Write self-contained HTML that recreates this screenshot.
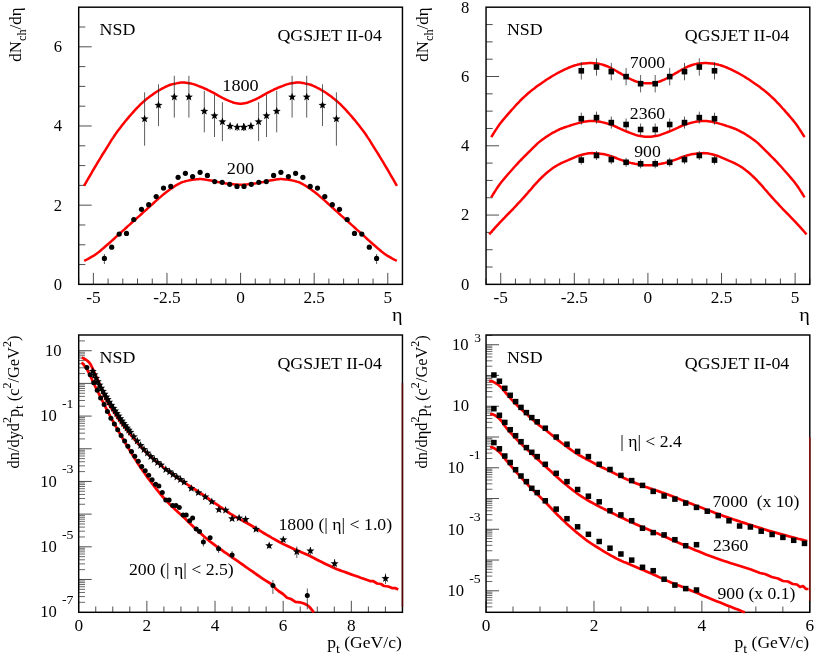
<!DOCTYPE html>
<html><head><meta charset="utf-8"><title>QGSJET II-04 NSD</title>
<style>html,body{margin:0;padding:0;background:#fff;}svg{display:block;will-change:transform;}text{font-family:"Liberation Serif",serif;}</style>
</head><body>
<svg width="817" height="654" viewBox="0 0 817 654" font-family="Liberation Serif, serif" fill="#000">
<line x1="78.65" y1="284.35" x2="78.65" y2="278.55" stroke="#222" stroke-width="0.8" />
<line x1="93.37" y1="284.35" x2="93.37" y2="272.85" stroke="#222" stroke-width="0.8" />
<line x1="108.09" y1="284.35" x2="108.09" y2="278.55" stroke="#222" stroke-width="0.8" />
<line x1="122.81" y1="284.35" x2="122.81" y2="278.55" stroke="#222" stroke-width="0.8" />
<line x1="137.53" y1="284.35" x2="137.53" y2="278.55" stroke="#222" stroke-width="0.8" />
<line x1="152.25" y1="284.35" x2="152.25" y2="278.55" stroke="#222" stroke-width="0.8" />
<line x1="166.97" y1="284.35" x2="166.97" y2="272.85" stroke="#222" stroke-width="0.8" />
<line x1="181.69" y1="284.35" x2="181.69" y2="278.55" stroke="#222" stroke-width="0.8" />
<line x1="196.41" y1="284.35" x2="196.41" y2="278.55" stroke="#222" stroke-width="0.8" />
<line x1="211.13" y1="284.35" x2="211.13" y2="278.55" stroke="#222" stroke-width="0.8" />
<line x1="225.85" y1="284.35" x2="225.85" y2="278.55" stroke="#222" stroke-width="0.8" />
<line x1="240.57" y1="284.35" x2="240.57" y2="272.85" stroke="#222" stroke-width="0.8" />
<line x1="255.29" y1="284.35" x2="255.29" y2="278.55" stroke="#222" stroke-width="0.8" />
<line x1="270.01" y1="284.35" x2="270.01" y2="278.55" stroke="#222" stroke-width="0.8" />
<line x1="284.73" y1="284.35" x2="284.73" y2="278.55" stroke="#222" stroke-width="0.8" />
<line x1="299.45" y1="284.35" x2="299.45" y2="278.55" stroke="#222" stroke-width="0.8" />
<line x1="314.17" y1="284.35" x2="314.17" y2="272.85" stroke="#222" stroke-width="0.8" />
<line x1="328.89" y1="284.35" x2="328.89" y2="278.55" stroke="#222" stroke-width="0.8" />
<line x1="343.61" y1="284.35" x2="343.61" y2="278.55" stroke="#222" stroke-width="0.8" />
<line x1="358.33" y1="284.35" x2="358.33" y2="278.55" stroke="#222" stroke-width="0.8" />
<line x1="373.05" y1="284.35" x2="373.05" y2="278.55" stroke="#222" stroke-width="0.8" />
<line x1="387.77" y1="284.35" x2="387.77" y2="272.85" stroke="#222" stroke-width="0.8" />
<line x1="402.49" y1="284.35" x2="402.49" y2="278.55" stroke="#222" stroke-width="0.8" />
<line x1="78.70" y1="264.56" x2="85.30" y2="264.56" stroke="#222" stroke-width="0.8" />
<line x1="78.70" y1="244.76" x2="85.30" y2="244.76" stroke="#222" stroke-width="0.8" />
<line x1="78.70" y1="224.97" x2="85.30" y2="224.97" stroke="#222" stroke-width="0.8" />
<line x1="78.70" y1="205.17" x2="91.70" y2="205.17" stroke="#222" stroke-width="0.8" />
<line x1="78.70" y1="185.38" x2="85.30" y2="185.38" stroke="#222" stroke-width="0.8" />
<line x1="78.70" y1="165.58" x2="85.30" y2="165.58" stroke="#222" stroke-width="0.8" />
<line x1="78.70" y1="145.79" x2="85.30" y2="145.79" stroke="#222" stroke-width="0.8" />
<line x1="78.70" y1="125.99" x2="91.70" y2="125.99" stroke="#222" stroke-width="0.8" />
<line x1="78.70" y1="106.19" x2="85.30" y2="106.19" stroke="#222" stroke-width="0.8" />
<line x1="78.70" y1="86.40" x2="85.30" y2="86.40" stroke="#222" stroke-width="0.8" />
<line x1="78.70" y1="66.61" x2="85.30" y2="66.61" stroke="#222" stroke-width="0.8" />
<line x1="78.70" y1="46.81" x2="91.70" y2="46.81" stroke="#222" stroke-width="0.8" />
<line x1="78.70" y1="27.01" x2="85.30" y2="27.01" stroke="#222" stroke-width="0.8" />
<rect x="78.7" y="7.2" width="323.75" height="277.15000000000003" fill="none" stroke="#000" stroke-width="1.45"/>
<text transform="translate(93.37,303.00) scale(1.1,1)" font-size="15.7" text-anchor="middle" >-5</text>
<text transform="translate(166.97,303.00) scale(1.1,1)" font-size="15.7" text-anchor="middle" >-2.5</text>
<text transform="translate(240.57,303.00) scale(1.1,1)" font-size="15.7" text-anchor="middle" >0</text>
<text transform="translate(314.17,303.00) scale(1.1,1)" font-size="15.7" text-anchor="middle" >2.5</text>
<text transform="translate(387.77,303.00) scale(1.1,1)" font-size="15.7" text-anchor="middle" >5</text>
<text transform="translate(62.00,289.75) scale(1.06,1)" font-size="15.7" text-anchor="end" >0</text>
<text transform="translate(62.00,210.57) scale(1.06,1)" font-size="15.7" text-anchor="end" >2</text>
<text transform="translate(62.00,131.39) scale(1.06,1)" font-size="15.7" text-anchor="end" >4</text>
<text transform="translate(62.00,52.21) scale(1.06,1)" font-size="15.7" text-anchor="end" >6</text>
<text transform="translate(402.50,320.50) scale(1.125,1)" font-size="18" text-anchor="end" >η</text>
<text transform="translate(99.60,35.00) scale(1.14,1)" font-size="15.7" text-anchor="start" >NSD</text>
<text transform="translate(277.40,40.80) scale(1.14,1)" font-size="15.7" text-anchor="start" >QGSJET II-04</text>
<g transform="translate(21.0,61.7) rotate(-90)"><text transform="scale(1.075,1)" font-size="15.7">dN<tspan font-size="11.5" dy="4.5">ch</tspan><tspan dy="-4.5">/dη</tspan></text></g>
<path d="M84.0,185.9 L86.1,182.3 L88.2,178.6 L90.4,175.0 L92.4,171.4 L94.4,168.0 L96.3,164.8 L98.0,161.9 L99.6,159.3 L101.1,156.9 L102.5,154.5 L104.0,152.2 L105.5,149.8 L107.0,147.3 L108.6,144.8 L110.1,142.4 L111.6,139.9 L113.2,137.6 L114.7,135.3 L116.2,133.1 L117.7,131.0 L119.3,129.0 L120.8,127.1 L122.3,125.1 L123.8,123.2 L125.3,121.3 L126.9,119.4 L128.4,117.6 L129.9,115.8 L131.5,114.0 L133.0,112.3 L134.5,110.6 L136.1,108.9 L137.6,107.3 L139.1,105.8 L140.7,104.2 L142.2,102.8 L143.7,101.4 L145.2,100.2 L146.7,98.9 L148.3,97.8 L149.8,96.6 L151.3,95.5 L152.8,94.4 L154.4,93.3 L155.9,92.3 L157.4,91.3 L159.0,90.4 L160.5,89.5 L162.0,88.6 L163.6,87.8 L165.1,87.0 L166.6,86.3 L168.2,85.6 L169.7,85.0 L171.3,84.5 L172.9,84.1 L174.5,83.7 L176.1,83.4 L177.5,83.1 L178.8,82.9 L179.8,82.7 L180.5,82.6 L181.1,82.5 L181.7,82.4 L182.4,82.4 L183.4,82.5 L184.6,82.6 L186.0,82.7 L187.5,82.9 L189.1,83.2 L190.8,83.5 L192.4,83.9 L194.1,84.4 L195.8,84.9 L197.5,85.6 L199.3,86.3 L201.1,87.0 L202.8,87.7 L204.5,88.5 L206.3,89.2 L208.0,90.1 L209.7,90.9 L211.5,91.8 L213.2,92.7 L214.9,93.6 L216.7,94.6 L218.5,95.7 L220.2,96.7 L222.0,97.6 L223.7,98.5 L225.5,99.3 L227.3,100.1 L229.1,100.9 L230.9,101.6 L232.5,102.2 L234.0,102.7 L235.3,103.1 L236.4,103.3 L237.5,103.5 L238.5,103.6 L239.5,103.7 L240.5,103.7 L241.5,103.7 L242.5,103.6 L243.5,103.5 L244.6,103.3 L245.7,103.1 L247.0,102.7 L248.5,102.2 L250.1,101.6 L251.9,100.9 L253.7,100.1 L255.5,99.3 L257.3,98.5 L259.0,97.6 L260.8,96.7 L262.5,95.7 L264.3,94.6 L266.1,93.6 L267.8,92.7 L269.5,91.8 L271.3,90.9 L273.0,90.1 L274.7,89.2 L276.5,88.5 L278.2,87.7 L279.9,87.0 L281.7,86.3 L283.5,85.6 L285.2,84.9 L286.9,84.4 L288.6,83.9 L290.2,83.5 L291.9,83.2 L293.5,82.9 L295.0,82.7 L296.4,82.6 L297.6,82.5 L298.6,82.4 L299.3,82.4 L299.9,82.5 L300.5,82.6 L301.2,82.7 L302.2,82.9 L303.5,83.1 L304.9,83.4 L306.5,83.7 L308.1,84.1 L309.7,84.5 L311.3,85.0 L312.8,85.6 L314.4,86.3 L315.9,87.0 L317.4,87.8 L319.0,88.6 L320.5,89.5 L322.0,90.4 L323.6,91.3 L325.1,92.3 L326.6,93.3 L328.2,94.4 L329.7,95.5 L331.2,96.6 L332.7,97.8 L334.2,98.9 L335.8,100.2 L337.3,101.4 L338.8,102.8 L340.3,104.2 L341.9,105.8 L343.4,107.3 L344.9,108.9 L346.5,110.6 L348.0,112.3 L349.5,114.0 L351.1,115.8 L352.6,117.6 L354.1,119.4 L355.7,121.3 L357.2,123.2 L358.7,125.1 L360.2,127.1 L361.7,129.0 L363.3,131.0 L364.8,133.1 L366.3,135.3 L367.8,137.6 L369.4,139.9 L370.9,142.4 L372.4,144.8 L374.0,147.3 L375.5,149.8 L377.0,152.2 L378.5,154.5 L379.9,156.9 L381.4,159.3 L383.0,161.9 L384.7,164.8 L386.6,168.0 L388.6,171.4 L390.6,175.0 L392.8,178.6 L394.9,182.3 L396.9,185.9" fill="none" stroke="#ff0000" stroke-width="2.5" stroke-linejoin="round" stroke-linecap="butt"/>
<path d="M84.2,260.9 L85.9,260.0 L87.7,259.1 L89.4,258.2 L91.1,257.2 L92.9,256.2 L94.6,255.1 L96.3,253.9 L98.1,252.6 L99.8,251.2 L101.5,249.7 L103.3,248.3 L105.0,246.8 L106.7,245.3 L108.5,243.7 L110.2,242.2 L112.0,240.6 L113.8,239.0 L115.5,237.4 L117.2,235.8 L119.0,234.3 L120.7,232.7 L122.4,231.1 L124.2,229.6 L125.9,228.0 L127.6,226.4 L129.4,224.9 L131.1,223.3 L132.8,221.8 L134.6,220.3 L136.3,218.7 L138.0,217.1 L139.8,215.6 L141.5,214.0 L143.2,212.4 L145.0,210.9 L146.7,209.3 L148.4,207.7 L150.2,206.1 L151.9,204.6 L153.6,203.0 L155.4,201.4 L157.1,199.9 L158.8,198.4 L160.6,196.9 L162.3,195.4 L164.0,193.9 L165.8,192.5 L167.5,191.2 L169.3,189.9 L171.1,188.6 L173.0,187.4 L174.7,186.2 L176.4,185.2 L177.9,184.3 L179.2,183.6 L180.2,183.1 L181.1,182.6 L182.0,182.3 L183.0,181.9 L184.1,181.6 L185.4,181.2 L186.7,180.9 L188.1,180.6 L189.5,180.3 L191.0,180.0 L192.4,179.8 L193.8,179.6 L195.2,179.4 L196.6,179.3 L198.0,179.2 L199.4,179.1 L200.8,179.1 L202.2,179.2 L203.5,179.3 L204.8,179.5 L206.2,179.7 L207.6,179.9 L209.1,180.2 L210.7,180.5 L212.4,180.8 L214.2,181.2 L216.0,181.6 L217.7,182.0 L219.5,182.3 L221.2,182.6 L223.0,182.9 L224.7,183.2 L226.4,183.4 L228.2,183.7 L229.9,183.9 L231.7,184.1 L233.4,184.3 L235.2,184.5 L237.0,184.6 L238.7,184.7 L240.5,184.7 L242.3,184.7 L244.0,184.6 L245.8,184.4 L247.6,184.3 L249.3,184.1 L251.1,183.9 L252.8,183.7 L254.6,183.4 L256.3,183.2 L258.0,182.9 L259.8,182.6 L261.5,182.3 L263.3,182.0 L265.0,181.6 L266.8,181.2 L268.6,180.8 L270.3,180.5 L271.9,180.2 L273.4,179.9 L274.8,179.7 L276.2,179.5 L277.5,179.3 L278.8,179.2 L280.2,179.1 L281.6,179.1 L283.0,179.2 L284.4,179.3 L285.8,179.4 L287.2,179.6 L288.6,179.8 L290.0,180.0 L291.5,180.3 L292.9,180.6 L294.3,180.9 L295.6,181.2 L296.9,181.6 L298.0,181.9 L299.0,182.3 L299.9,182.6 L300.8,183.1 L301.8,183.6 L303.1,184.3 L304.6,185.2 L306.3,186.2 L308.0,187.4 L309.9,188.6 L311.7,189.9 L313.5,191.2 L315.2,192.5 L317.0,193.9 L318.7,195.4 L320.4,196.9 L322.2,198.4 L323.9,199.9 L325.6,201.4 L327.4,203.0 L329.1,204.6 L330.8,206.1 L332.6,207.7 L334.3,209.3 L336.0,210.9 L337.8,212.4 L339.5,214.0 L341.2,215.6 L343.0,217.1 L344.7,218.7 L346.4,220.3 L348.2,221.8 L349.9,223.3 L351.6,224.9 L353.4,226.4 L355.1,228.0 L356.8,229.6 L358.6,231.1 L360.3,232.7 L362.0,234.3 L363.8,235.8 L365.5,237.4 L367.2,239.0 L369.0,240.6 L370.8,242.2 L372.5,243.7 L374.3,245.3 L376.0,246.8 L377.7,248.3 L379.5,249.7 L381.2,251.2 L382.9,252.6 L384.7,253.9 L386.4,255.1 L388.1,256.2 L389.9,257.2 L391.6,258.2 L393.3,259.1 L395.1,260.0 L396.8,260.9" fill="none" stroke="#ff0000" stroke-width="2.5" stroke-linejoin="round" stroke-linecap="butt"/>
<line x1="144.60" y1="92.30" x2="144.60" y2="145.70" stroke="#333" stroke-width="0.8" />
<line x1="336.40" y1="92.30" x2="336.40" y2="145.70" stroke="#333" stroke-width="0.8" />
<line x1="158.50" y1="84.30" x2="158.50" y2="126.00" stroke="#333" stroke-width="0.8" />
<line x1="322.50" y1="84.30" x2="322.50" y2="126.00" stroke="#333" stroke-width="0.8" />
<line x1="174.30" y1="75.80" x2="174.30" y2="117.60" stroke="#333" stroke-width="0.8" />
<line x1="306.70" y1="75.80" x2="306.70" y2="117.60" stroke="#333" stroke-width="0.8" />
<line x1="188.90" y1="75.80" x2="188.90" y2="117.60" stroke="#333" stroke-width="0.8" />
<line x1="292.10" y1="75.80" x2="292.10" y2="117.60" stroke="#333" stroke-width="0.8" />
<line x1="204.30" y1="90.80" x2="204.30" y2="132.40" stroke="#333" stroke-width="0.8" />
<line x1="276.70" y1="90.80" x2="276.70" y2="132.40" stroke="#333" stroke-width="0.8" />
<line x1="214.50" y1="95.00" x2="214.50" y2="137.00" stroke="#333" stroke-width="0.8" />
<line x1="266.50" y1="95.00" x2="266.50" y2="137.00" stroke="#333" stroke-width="0.8" />
<line x1="222.40" y1="102.20" x2="222.40" y2="141.10" stroke="#333" stroke-width="0.8" />
<line x1="258.60" y1="102.20" x2="258.60" y2="141.10" stroke="#333" stroke-width="0.8" />
<line x1="230.10" y1="122.50" x2="230.10" y2="130.00" stroke="#333" stroke-width="0.8" />
<line x1="250.90" y1="122.50" x2="250.90" y2="130.00" stroke="#333" stroke-width="0.8" />
<line x1="237.20" y1="123.50" x2="237.20" y2="131.00" stroke="#333" stroke-width="0.8" />
<line x1="243.80" y1="123.50" x2="243.80" y2="131.00" stroke="#333" stroke-width="0.8" />
<line x1="243.80" y1="123.50" x2="243.80" y2="131.00" stroke="#333" stroke-width="0.8" />
<polygon points="144.60,114.70 145.66,117.44 148.59,117.60 146.32,119.46 147.07,122.30 144.60,120.71 142.13,122.30 142.88,119.46 140.61,117.60 143.54,117.44" fill="#000"/>
<polygon points="336.40,114.70 337.46,117.44 340.39,117.60 338.12,119.46 338.87,122.30 336.40,120.71 333.93,122.30 334.68,119.46 332.41,117.60 335.34,117.44" fill="#000"/>
<polygon points="158.50,101.00 159.56,103.74 162.49,103.90 160.22,105.76 160.97,108.60 158.50,107.01 156.03,108.60 156.78,105.76 154.51,103.90 157.44,103.74" fill="#000"/>
<polygon points="322.50,101.00 323.56,103.74 326.49,103.90 324.22,105.76 324.97,108.60 322.50,107.01 320.03,108.60 320.78,105.76 318.51,103.90 321.44,103.74" fill="#000"/>
<polygon points="174.30,92.80 175.36,95.54 178.29,95.70 176.02,97.56 176.77,100.40 174.30,98.81 171.83,100.40 172.58,97.56 170.31,95.70 173.24,95.54" fill="#000"/>
<polygon points="306.70,92.80 307.76,95.54 310.69,95.70 308.42,97.56 309.17,100.40 306.70,98.81 304.23,100.40 304.98,97.56 302.71,95.70 305.64,95.54" fill="#000"/>
<polygon points="188.90,92.80 189.96,95.54 192.89,95.70 190.62,97.56 191.37,100.40 188.90,98.81 186.43,100.40 187.18,97.56 184.91,95.70 187.84,95.54" fill="#000"/>
<polygon points="292.10,92.80 293.16,95.54 296.09,95.70 293.82,97.56 294.57,100.40 292.10,98.81 289.63,100.40 290.38,97.56 288.11,95.70 291.04,95.54" fill="#000"/>
<polygon points="204.30,107.00 205.36,109.74 208.29,109.90 206.02,111.76 206.77,114.60 204.30,113.01 201.83,114.60 202.58,111.76 200.31,109.90 203.24,109.74" fill="#000"/>
<polygon points="276.70,107.00 277.76,109.74 280.69,109.90 278.42,111.76 279.17,114.60 276.70,113.01 274.23,114.60 274.98,111.76 272.71,109.90 275.64,109.74" fill="#000"/>
<polygon points="214.50,111.60 215.56,114.34 218.49,114.50 216.22,116.36 216.97,119.20 214.50,117.61 212.03,119.20 212.78,116.36 210.51,114.50 213.44,114.34" fill="#000"/>
<polygon points="266.50,111.60 267.56,114.34 270.49,114.50 268.22,116.36 268.97,119.20 266.50,117.61 264.03,119.20 264.78,116.36 262.51,114.50 265.44,114.34" fill="#000"/>
<polygon points="222.40,117.60 223.46,120.34 226.39,120.50 224.12,122.36 224.87,125.20 222.40,123.61 219.93,125.20 220.68,122.36 218.41,120.50 221.34,120.34" fill="#000"/>
<polygon points="258.60,117.60 259.66,120.34 262.59,120.50 260.32,122.36 261.07,125.20 258.60,123.61 256.13,125.20 256.88,122.36 254.61,120.50 257.54,120.34" fill="#000"/>
<polygon points="230.10,122.00 231.16,124.74 234.09,124.90 231.82,126.76 232.57,129.60 230.10,128.01 227.63,129.60 228.38,126.76 226.11,124.90 229.04,124.74" fill="#000"/>
<polygon points="250.90,122.00 251.96,124.74 254.89,124.90 252.62,126.76 253.37,129.60 250.90,128.01 248.43,129.60 249.18,126.76 246.91,124.90 249.84,124.74" fill="#000"/>
<polygon points="237.20,123.00 238.26,125.74 241.19,125.90 238.92,127.76 239.67,130.60 237.20,129.01 234.73,130.60 235.48,127.76 233.21,125.90 236.14,125.74" fill="#000"/>
<polygon points="243.80,123.00 244.86,125.74 247.79,125.90 245.52,127.76 246.27,130.60 243.80,129.01 241.33,130.60 242.08,127.76 239.81,125.90 242.74,125.74" fill="#000"/>
<polygon points="243.80,123.00 244.86,125.74 247.79,125.90 245.52,127.76 246.27,130.60 243.80,129.01 241.33,130.60 242.08,127.76 239.81,125.90 242.74,125.74" fill="#000"/>
<text transform="translate(240.50,91.00) scale(1.16,1)" font-size="15.7" text-anchor="middle" >1800</text>
<text transform="translate(240.50,173.70) scale(1.16,1)" font-size="15.7" text-anchor="middle" >200</text>
<line x1="104.40" y1="254.00" x2="104.40" y2="264.00" stroke="#333" stroke-width="0.8" />
<line x1="376.60" y1="254.00" x2="376.60" y2="264.00" stroke="#333" stroke-width="0.8" />
<circle cx="104.40" cy="258.40" r="2.6" fill="#000"/>
<circle cx="376.60" cy="258.40" r="2.6" fill="#000"/>
<circle cx="111.70" cy="247.20" r="2.6" fill="#000"/>
<circle cx="369.30" cy="247.20" r="2.6" fill="#000"/>
<circle cx="119.20" cy="234.10" r="2.6" fill="#000"/>
<circle cx="361.80" cy="234.10" r="2.6" fill="#000"/>
<circle cx="126.50" cy="233.40" r="2.6" fill="#000"/>
<circle cx="354.50" cy="233.40" r="2.6" fill="#000"/>
<circle cx="133.80" cy="219.50" r="2.6" fill="#000"/>
<circle cx="347.20" cy="219.50" r="2.6" fill="#000"/>
<circle cx="141.50" cy="209.30" r="2.6" fill="#000"/>
<circle cx="339.50" cy="209.30" r="2.6" fill="#000"/>
<circle cx="148.70" cy="204.70" r="2.6" fill="#000"/>
<circle cx="332.30" cy="204.70" r="2.6" fill="#000"/>
<circle cx="156.20" cy="196.60" r="2.6" fill="#000"/>
<circle cx="324.80" cy="196.60" r="2.6" fill="#000"/>
<circle cx="163.50" cy="188.10" r="2.6" fill="#000"/>
<circle cx="317.50" cy="188.10" r="2.6" fill="#000"/>
<circle cx="170.80" cy="186.40" r="2.6" fill="#000"/>
<circle cx="310.20" cy="186.40" r="2.6" fill="#000"/>
<circle cx="178.10" cy="177.30" r="2.6" fill="#000"/>
<circle cx="302.90" cy="177.30" r="2.6" fill="#000"/>
<circle cx="185.40" cy="173.30" r="2.6" fill="#000"/>
<circle cx="295.60" cy="173.30" r="2.6" fill="#000"/>
<circle cx="192.60" cy="176.60" r="2.6" fill="#000"/>
<circle cx="288.40" cy="176.60" r="2.6" fill="#000"/>
<circle cx="200.10" cy="172.30" r="2.6" fill="#000"/>
<circle cx="280.90" cy="172.30" r="2.6" fill="#000"/>
<circle cx="207.40" cy="175.40" r="2.6" fill="#000"/>
<circle cx="273.60" cy="175.40" r="2.6" fill="#000"/>
<circle cx="214.70" cy="181.60" r="2.6" fill="#000"/>
<circle cx="266.30" cy="181.60" r="2.6" fill="#000"/>
<circle cx="222.20" cy="182.30" r="2.6" fill="#000"/>
<circle cx="258.80" cy="182.30" r="2.6" fill="#000"/>
<circle cx="229.70" cy="184.30" r="2.6" fill="#000"/>
<circle cx="251.30" cy="184.30" r="2.6" fill="#000"/>
<circle cx="237.00" cy="186.40" r="2.6" fill="#000"/>
<circle cx="244.00" cy="186.40" r="2.6" fill="#000"/>
<line x1="486.00" y1="284.35" x2="486.00" y2="278.55" stroke="#222" stroke-width="0.8" />
<line x1="500.72" y1="284.35" x2="500.72" y2="272.85" stroke="#222" stroke-width="0.8" />
<line x1="515.44" y1="284.35" x2="515.44" y2="278.55" stroke="#222" stroke-width="0.8" />
<line x1="530.16" y1="284.35" x2="530.16" y2="278.55" stroke="#222" stroke-width="0.8" />
<line x1="544.88" y1="284.35" x2="544.88" y2="278.55" stroke="#222" stroke-width="0.8" />
<line x1="559.60" y1="284.35" x2="559.60" y2="278.55" stroke="#222" stroke-width="0.8" />
<line x1="574.32" y1="284.35" x2="574.32" y2="272.85" stroke="#222" stroke-width="0.8" />
<line x1="589.04" y1="284.35" x2="589.04" y2="278.55" stroke="#222" stroke-width="0.8" />
<line x1="603.76" y1="284.35" x2="603.76" y2="278.55" stroke="#222" stroke-width="0.8" />
<line x1="618.48" y1="284.35" x2="618.48" y2="278.55" stroke="#222" stroke-width="0.8" />
<line x1="633.20" y1="284.35" x2="633.20" y2="278.55" stroke="#222" stroke-width="0.8" />
<line x1="647.92" y1="284.35" x2="647.92" y2="272.85" stroke="#222" stroke-width="0.8" />
<line x1="662.64" y1="284.35" x2="662.64" y2="278.55" stroke="#222" stroke-width="0.8" />
<line x1="677.36" y1="284.35" x2="677.36" y2="278.55" stroke="#222" stroke-width="0.8" />
<line x1="692.08" y1="284.35" x2="692.08" y2="278.55" stroke="#222" stroke-width="0.8" />
<line x1="706.80" y1="284.35" x2="706.80" y2="278.55" stroke="#222" stroke-width="0.8" />
<line x1="721.52" y1="284.35" x2="721.52" y2="272.85" stroke="#222" stroke-width="0.8" />
<line x1="736.24" y1="284.35" x2="736.24" y2="278.55" stroke="#222" stroke-width="0.8" />
<line x1="750.96" y1="284.35" x2="750.96" y2="278.55" stroke="#222" stroke-width="0.8" />
<line x1="765.68" y1="284.35" x2="765.68" y2="278.55" stroke="#222" stroke-width="0.8" />
<line x1="780.40" y1="284.35" x2="780.40" y2="278.55" stroke="#222" stroke-width="0.8" />
<line x1="795.12" y1="284.35" x2="795.12" y2="272.85" stroke="#222" stroke-width="0.8" />
<line x1="809.84" y1="284.35" x2="809.84" y2="278.55" stroke="#222" stroke-width="0.8" />
<line x1="486.05" y1="267.03" x2="492.65" y2="267.03" stroke="#222" stroke-width="0.8" />
<line x1="486.05" y1="249.71" x2="492.65" y2="249.71" stroke="#222" stroke-width="0.8" />
<line x1="486.05" y1="232.39" x2="492.65" y2="232.39" stroke="#222" stroke-width="0.8" />
<line x1="486.05" y1="215.07" x2="499.05" y2="215.07" stroke="#222" stroke-width="0.8" />
<line x1="486.05" y1="197.75" x2="492.65" y2="197.75" stroke="#222" stroke-width="0.8" />
<line x1="486.05" y1="180.43" x2="492.65" y2="180.43" stroke="#222" stroke-width="0.8" />
<line x1="486.05" y1="163.11" x2="492.65" y2="163.11" stroke="#222" stroke-width="0.8" />
<line x1="486.05" y1="145.79" x2="499.05" y2="145.79" stroke="#222" stroke-width="0.8" />
<line x1="486.05" y1="128.47" x2="492.65" y2="128.47" stroke="#222" stroke-width="0.8" />
<line x1="486.05" y1="111.15" x2="492.65" y2="111.15" stroke="#222" stroke-width="0.8" />
<line x1="486.05" y1="93.83" x2="492.65" y2="93.83" stroke="#222" stroke-width="0.8" />
<line x1="486.05" y1="76.51" x2="499.05" y2="76.51" stroke="#222" stroke-width="0.8" />
<line x1="486.05" y1="59.19" x2="492.65" y2="59.19" stroke="#222" stroke-width="0.8" />
<line x1="486.05" y1="41.87" x2="492.65" y2="41.87" stroke="#222" stroke-width="0.8" />
<line x1="486.05" y1="24.55" x2="492.65" y2="24.55" stroke="#222" stroke-width="0.8" />
<rect x="486.05" y="7.2" width="323.74999999999994" height="277.15000000000003" fill="none" stroke="#000" stroke-width="1.45"/>
<text transform="translate(500.72,303.00) scale(1.1,1)" font-size="15.7" text-anchor="middle" >-5</text>
<text transform="translate(574.32,303.00) scale(1.1,1)" font-size="15.7" text-anchor="middle" >-2.5</text>
<text transform="translate(647.92,303.00) scale(1.1,1)" font-size="15.7" text-anchor="middle" >0</text>
<text transform="translate(721.52,303.00) scale(1.1,1)" font-size="15.7" text-anchor="middle" >2.5</text>
<text transform="translate(795.12,303.00) scale(1.1,1)" font-size="15.7" text-anchor="middle" >5</text>
<text transform="translate(469.35,289.75) scale(1.06,1)" font-size="15.7" text-anchor="end" >0</text>
<text transform="translate(469.35,220.47) scale(1.06,1)" font-size="15.7" text-anchor="end" >2</text>
<text transform="translate(469.35,151.19) scale(1.06,1)" font-size="15.7" text-anchor="end" >4</text>
<text transform="translate(469.35,81.91) scale(1.06,1)" font-size="15.7" text-anchor="end" >6</text>
<text transform="translate(469.35,12.63) scale(1.06,1)" font-size="15.7" text-anchor="end" >8</text>
<text transform="translate(809.85,320.50) scale(1.125,1)" font-size="18" text-anchor="end" >η</text>
<text transform="translate(506.95,35.00) scale(1.14,1)" font-size="15.7" text-anchor="start" >NSD</text>
<text transform="translate(684.75,40.80) scale(1.14,1)" font-size="15.7" text-anchor="start" >QGSJET II-04</text>
<g transform="translate(428.35,61.7) rotate(-90)"><text transform="scale(1.075,1)" font-size="15.7">dN<tspan font-size="11.5" dy="4.5">ch</tspan><tspan dy="-4.5">/dη</tspan></text></g>
<path d="M491.2,137.2 L492.6,135.0 L493.9,132.9 L495.3,130.7 L496.7,128.6 L498.1,126.4 L499.6,124.3 L501.2,122.2 L502.9,120.1 L504.7,118.0 L506.5,115.9 L508.2,113.9 L510.0,111.9 L511.7,109.9 L513.5,108.0 L515.2,106.0 L516.9,104.1 L518.7,102.3 L520.4,100.5 L522.1,98.8 L523.9,97.2 L525.6,95.6 L527.3,94.0 L529.1,92.5 L530.8,91.1 L532.5,89.7 L534.3,88.4 L536.0,87.1 L537.7,85.8 L539.5,84.6 L541.2,83.4 L542.9,82.2 L544.7,81.0 L546.4,79.8 L548.1,78.7 L549.9,77.6 L551.6,76.5 L553.3,75.5 L555.1,74.5 L556.8,73.5 L558.5,72.6 L560.3,71.7 L562.0,70.8 L563.8,69.9 L565.5,69.1 L567.3,68.3 L569.1,67.5 L570.8,66.8 L572.4,66.2 L573.9,65.7 L575.3,65.2 L576.7,64.9 L578.0,64.5 L579.3,64.3 L580.7,64.0 L582.1,63.8 L583.5,63.6 L584.8,63.4 L586.2,63.2 L587.6,63.2 L589.0,63.1 L590.4,63.1 L591.8,63.1 L593.2,63.2 L594.6,63.3 L596.0,63.4 L597.4,63.6 L598.8,63.8 L600.2,64.1 L601.6,64.4 L602.9,64.8 L604.3,65.2 L605.7,65.7 L607.1,66.2 L608.5,66.9 L609.9,67.5 L611.2,68.2 L612.6,69.0 L614.0,69.7 L615.4,70.5 L616.8,71.2 L618.1,72.1 L619.5,72.9 L620.9,73.7 L622.3,74.5 L623.7,75.3 L625.1,76.1 L626.5,77.0 L627.9,77.8 L629.3,78.5 L630.7,79.2 L632.1,79.8 L633.5,80.4 L634.8,81.0 L636.2,81.5 L637.6,81.9 L639.0,82.3 L640.4,82.6 L641.9,82.9 L643.4,83.1 L644.9,83.2 L646.4,83.3 L647.9,83.3 L649.4,83.3 L650.9,83.2 L652.4,83.1 L653.9,82.9 L655.4,82.6 L656.8,82.3 L658.2,81.9 L659.6,81.5 L661.0,81.0 L662.3,80.4 L663.7,79.8 L665.1,79.2 L666.5,78.5 L667.9,77.8 L669.3,77.0 L670.7,76.1 L672.1,75.3 L673.5,74.5 L674.9,73.7 L676.3,72.9 L677.7,72.1 L679.0,71.2 L680.4,70.5 L681.8,69.7 L683.2,69.0 L684.6,68.2 L685.9,67.5 L687.3,66.9 L688.7,66.2 L690.1,65.7 L691.5,65.2 L692.9,64.8 L694.2,64.4 L695.6,64.1 L697.0,63.8 L698.4,63.6 L699.8,63.4 L701.2,63.3 L702.6,63.2 L704.0,63.1 L705.4,63.1 L706.8,63.1 L708.2,63.2 L709.6,63.2 L711.0,63.4 L712.3,63.6 L713.7,63.8 L715.1,64.0 L716.5,64.3 L717.8,64.5 L719.1,64.9 L720.5,65.2 L721.9,65.7 L723.4,66.2 L725.0,66.8 L726.7,67.5 L728.5,68.3 L730.3,69.1 L732.0,69.9 L733.8,70.8 L735.5,71.7 L737.3,72.6 L739.0,73.5 L740.7,74.5 L742.5,75.5 L744.2,76.5 L745.9,77.6 L747.7,78.7 L749.4,79.8 L751.1,81.0 L752.9,82.2 L754.6,83.4 L756.3,84.6 L758.1,85.8 L759.8,87.1 L761.5,88.4 L763.3,89.7 L765.0,91.1 L766.7,92.5 L768.5,94.0 L770.2,95.6 L771.9,97.2 L773.7,98.8 L775.4,100.5 L777.1,102.3 L778.9,104.1 L780.6,106.0 L782.3,108.0 L784.1,109.9 L785.8,111.9 L787.6,113.9 L789.3,115.9 L791.1,118.0 L792.9,120.1 L794.6,122.2 L796.2,124.3 L797.7,126.4 L799.1,128.6 L800.5,130.7 L801.9,132.9 L803.2,135.0 L804.6,137.2" fill="none" stroke="#ff0000" stroke-width="2.5" stroke-linejoin="round" stroke-linecap="butt"/>
<path d="M491.2,197.4 L492.6,195.2 L493.9,193.0 L495.3,190.9 L496.7,188.7 L498.1,186.5 L499.6,184.4 L501.2,182.3 L502.9,180.2 L504.7,178.1 L506.5,176.0 L508.2,174.0 L510.0,172.0 L511.8,170.0 L513.5,168.0 L515.3,166.0 L517.1,164.1 L518.8,162.2 L520.4,160.5 L521.9,159.0 L523.2,157.6 L524.5,156.3 L525.9,155.0 L527.2,153.7 L528.7,152.2 L530.3,150.6 L532.0,148.9 L533.8,147.1 L535.6,145.3 L537.3,143.6 L539.1,142.1 L540.8,140.7 L542.6,139.4 L544.3,138.2 L546.0,137.0 L547.8,135.9 L549.5,134.8 L551.2,133.7 L553.0,132.7 L554.7,131.8 L556.4,130.9 L558.2,130.0 L559.9,129.2 L561.6,128.5 L563.4,127.8 L565.1,127.2 L566.8,126.6 L568.6,126.1 L570.3,125.5 L572.1,124.9 L573.8,124.4 L575.6,123.9 L577.4,123.4 L579.1,122.9 L580.7,122.5 L582.2,122.2 L583.6,121.9 L585.0,121.6 L586.3,121.4 L587.6,121.2 L589.0,121.1 L590.4,121.0 L591.8,121.0 L593.2,121.1 L594.6,121.1 L596.0,121.2 L597.4,121.4 L598.8,121.6 L600.2,121.8 L601.6,122.1 L602.9,122.4 L604.3,122.7 L605.7,123.1 L607.1,123.5 L608.5,123.9 L609.9,124.4 L611.2,124.9 L612.6,125.4 L614.0,125.9 L615.4,126.5 L616.8,127.1 L618.1,127.8 L619.5,128.4 L620.9,129.1 L622.3,129.7 L623.7,130.3 L625.1,130.9 L626.5,131.5 L627.9,132.0 L629.3,132.6 L630.7,133.1 L632.1,133.6 L633.5,134.1 L634.8,134.6 L636.2,135.1 L637.6,135.5 L639.0,135.8 L640.4,136.1 L641.9,136.3 L643.4,136.5 L644.9,136.7 L646.4,136.8 L647.9,136.8 L649.4,136.8 L650.9,136.7 L652.4,136.5 L653.9,136.3 L655.4,136.1 L656.8,135.8 L658.2,135.5 L659.6,135.1 L661.0,134.6 L662.3,134.1 L663.7,133.6 L665.1,133.1 L666.5,132.6 L667.9,132.0 L669.3,131.5 L670.7,130.9 L672.1,130.3 L673.5,129.7 L674.9,129.1 L676.3,128.4 L677.7,127.8 L679.0,127.1 L680.4,126.5 L681.8,125.9 L683.2,125.4 L684.6,124.9 L685.9,124.4 L687.3,123.9 L688.7,123.5 L690.1,123.1 L691.5,122.7 L692.9,122.4 L694.2,122.1 L695.6,121.8 L697.0,121.6 L698.4,121.4 L699.8,121.2 L701.2,121.1 L702.6,121.1 L704.0,121.0 L705.4,121.0 L706.8,121.1 L708.2,121.2 L709.5,121.4 L710.8,121.6 L712.2,121.9 L713.6,122.2 L715.1,122.5 L716.7,122.9 L718.4,123.4 L720.2,123.9 L722.0,124.4 L723.7,124.9 L725.5,125.5 L727.2,126.1 L729.0,126.6 L730.7,127.2 L732.4,127.8 L734.2,128.5 L735.9,129.2 L737.6,130.0 L739.4,130.9 L741.1,131.8 L742.8,132.7 L744.6,133.7 L746.3,134.8 L748.0,135.9 L749.8,137.0 L751.5,138.2 L753.2,139.4 L755.0,140.7 L756.7,142.1 L758.5,143.6 L760.2,145.3 L762.0,147.1 L763.8,148.9 L765.5,150.6 L767.1,152.2 L768.6,153.7 L769.9,155.0 L771.2,156.3 L772.6,157.6 L773.9,159.0 L775.4,160.5 L777.0,162.2 L778.7,164.1 L780.5,166.0 L782.3,168.0 L784.0,170.0 L785.8,172.0 L787.6,174.0 L789.3,176.0 L791.1,178.1 L792.9,180.2 L794.6,182.3 L796.2,184.4 L797.7,186.5 L799.1,188.7 L800.5,190.9 L801.9,193.0 L803.2,195.2 L804.6,197.4" fill="none" stroke="#ff0000" stroke-width="2.5" stroke-linejoin="round" stroke-linecap="butt"/>
<path d="M489.2,234.3 L490.6,232.8 L492.0,231.2 L493.4,229.7 L494.7,228.1 L496.1,226.6 L497.5,225.1 L498.9,223.6 L500.2,222.2 L501.5,220.9 L502.9,219.4 L504.3,218.0 L505.8,216.4 L507.4,214.7 L509.1,213.0 L510.9,211.2 L512.7,209.3 L514.4,207.5 L516.2,205.6 L517.9,203.7 L519.7,201.9 L521.4,200.0 L523.1,198.1 L524.9,196.1 L526.6,194.2 L528.3,192.2 L530.1,190.2 L531.8,188.2 L533.5,186.1 L535.3,184.2 L537.0,182.3 L538.7,180.5 L540.5,178.7 L542.2,177.0 L543.9,175.4 L545.7,173.8 L547.4,172.3 L549.1,170.9 L550.9,169.6 L552.6,168.3 L554.3,167.1 L556.1,166.0 L557.8,165.0 L559.5,164.1 L561.3,163.2 L563.0,162.4 L564.7,161.7 L566.5,160.9 L568.2,160.2 L569.9,159.4 L571.7,158.6 L573.4,157.9 L575.1,157.1 L576.9,156.4 L578.6,155.8 L580.4,155.2 L582.1,154.7 L583.9,154.3 L585.7,153.9 L587.4,153.5 L589.0,153.3 L590.5,153.2 L592.0,153.1 L593.3,153.2 L594.7,153.3 L596.0,153.4 L597.4,153.5 L598.8,153.6 L600.2,153.7 L601.6,153.9 L602.9,154.1 L604.3,154.3 L605.7,154.6 L607.1,155.0 L608.5,155.4 L609.9,155.8 L611.2,156.3 L612.6,156.8 L614.0,157.3 L615.4,157.8 L616.8,158.3 L618.1,158.9 L619.5,159.4 L620.9,159.9 L622.3,160.4 L623.7,160.9 L625.1,161.3 L626.5,161.8 L627.9,162.2 L629.3,162.5 L630.7,162.9 L632.1,163.2 L633.5,163.5 L634.8,163.8 L636.2,164.0 L637.6,164.2 L639.0,164.4 L640.4,164.6 L641.9,164.8 L643.4,165.0 L644.9,165.2 L646.4,165.3 L647.9,165.3 L649.4,165.3 L650.9,165.2 L652.4,165.0 L653.9,164.8 L655.4,164.6 L656.8,164.4 L658.2,164.2 L659.6,164.0 L661.0,163.8 L662.3,163.5 L663.7,163.2 L665.1,162.9 L666.5,162.5 L667.9,162.2 L669.3,161.8 L670.7,161.3 L672.1,160.9 L673.5,160.4 L674.9,159.9 L676.3,159.4 L677.7,158.9 L679.0,158.3 L680.4,157.8 L681.8,157.3 L683.2,156.8 L684.6,156.3 L685.9,155.8 L687.3,155.4 L688.7,155.0 L690.1,154.6 L691.5,154.3 L692.9,154.1 L694.2,153.9 L695.6,153.7 L697.0,153.6 L698.4,153.5 L699.8,153.4 L701.1,153.3 L702.5,153.2 L703.8,153.1 L705.3,153.2 L706.8,153.3 L708.4,153.5 L710.1,153.9 L711.9,154.3 L713.7,154.7 L715.4,155.2 L717.2,155.8 L718.9,156.4 L720.7,157.1 L722.4,157.9 L724.1,158.6 L725.9,159.4 L727.6,160.2 L729.3,160.9 L731.1,161.7 L732.8,162.4 L734.5,163.2 L736.3,164.1 L738.0,165.0 L739.7,166.0 L741.5,167.1 L743.2,168.3 L744.9,169.6 L746.7,170.9 L748.4,172.3 L750.1,173.8 L751.9,175.4 L753.6,177.0 L755.3,178.7 L757.1,180.5 L758.8,182.3 L760.5,184.2 L762.3,186.1 L764.0,188.2 L765.7,190.2 L767.5,192.2 L769.2,194.2 L770.9,196.1 L772.7,198.1 L774.4,200.0 L776.1,201.9 L777.9,203.7 L779.6,205.6 L781.4,207.5 L783.1,209.3 L784.9,211.2 L786.7,213.0 L788.4,214.7 L790.0,216.4 L791.5,218.0 L792.9,219.4 L794.3,220.8 L795.6,222.2 L796.9,223.6 L798.3,225.1 L799.7,226.6 L801.1,228.1 L802.4,229.7 L803.8,231.2 L805.2,232.8 L806.6,234.3" fill="none" stroke="#ff0000" stroke-width="2.5" stroke-linejoin="round" stroke-linecap="butt"/>
<line x1="581.30" y1="62.10" x2="581.30" y2="79.50" stroke="#333" stroke-width="0.8" />
<line x1="714.50" y1="62.10" x2="714.50" y2="79.50" stroke="#333" stroke-width="0.8" />
<line x1="596.50" y1="58.30" x2="596.50" y2="75.70" stroke="#333" stroke-width="0.8" />
<line x1="699.30" y1="58.30" x2="699.30" y2="75.70" stroke="#333" stroke-width="0.8" />
<line x1="611.30" y1="62.90" x2="611.30" y2="80.30" stroke="#333" stroke-width="0.8" />
<line x1="684.50" y1="62.90" x2="684.50" y2="80.30" stroke="#333" stroke-width="0.8" />
<line x1="626.10" y1="67.90" x2="626.10" y2="85.30" stroke="#333" stroke-width="0.8" />
<line x1="669.70" y1="67.90" x2="669.70" y2="85.30" stroke="#333" stroke-width="0.8" />
<line x1="640.60" y1="75.00" x2="640.60" y2="92.40" stroke="#333" stroke-width="0.8" />
<line x1="655.20" y1="75.00" x2="655.20" y2="92.40" stroke="#333" stroke-width="0.8" />
<rect x="578.50" y="68.00" width="5.6" height="5.6" fill="#000"/>
<rect x="711.70" y="68.00" width="5.6" height="5.6" fill="#000"/>
<rect x="593.70" y="64.20" width="5.6" height="5.6" fill="#000"/>
<rect x="696.50" y="64.20" width="5.6" height="5.6" fill="#000"/>
<rect x="608.50" y="68.80" width="5.6" height="5.6" fill="#000"/>
<rect x="681.70" y="68.80" width="5.6" height="5.6" fill="#000"/>
<rect x="623.30" y="73.80" width="5.6" height="5.6" fill="#000"/>
<rect x="666.90" y="73.80" width="5.6" height="5.6" fill="#000"/>
<rect x="637.80" y="80.90" width="5.6" height="5.6" fill="#000"/>
<rect x="652.40" y="80.90" width="5.6" height="5.6" fill="#000"/>
<line x1="581.30" y1="112.70" x2="581.30" y2="124.70" stroke="#333" stroke-width="0.8" />
<line x1="714.50" y1="112.70" x2="714.50" y2="124.70" stroke="#333" stroke-width="0.8" />
<line x1="596.50" y1="111.60" x2="596.50" y2="123.60" stroke="#333" stroke-width="0.8" />
<line x1="699.30" y1="111.60" x2="699.30" y2="123.60" stroke="#333" stroke-width="0.8" />
<line x1="611.30" y1="116.60" x2="611.30" y2="128.60" stroke="#333" stroke-width="0.8" />
<line x1="684.50" y1="116.60" x2="684.50" y2="128.60" stroke="#333" stroke-width="0.8" />
<line x1="626.10" y1="118.50" x2="626.10" y2="130.50" stroke="#333" stroke-width="0.8" />
<line x1="669.70" y1="118.50" x2="669.70" y2="130.50" stroke="#333" stroke-width="0.8" />
<line x1="640.60" y1="123.50" x2="640.60" y2="135.50" stroke="#333" stroke-width="0.8" />
<line x1="655.20" y1="123.50" x2="655.20" y2="135.50" stroke="#333" stroke-width="0.8" />
<rect x="578.50" y="115.90" width="5.6" height="5.6" fill="#000"/>
<rect x="711.70" y="115.90" width="5.6" height="5.6" fill="#000"/>
<rect x="593.70" y="114.80" width="5.6" height="5.6" fill="#000"/>
<rect x="696.50" y="114.80" width="5.6" height="5.6" fill="#000"/>
<rect x="608.50" y="119.80" width="5.6" height="5.6" fill="#000"/>
<rect x="681.70" y="119.80" width="5.6" height="5.6" fill="#000"/>
<rect x="623.30" y="121.70" width="5.6" height="5.6" fill="#000"/>
<rect x="666.90" y="121.70" width="5.6" height="5.6" fill="#000"/>
<rect x="637.80" y="126.70" width="5.6" height="5.6" fill="#000"/>
<rect x="652.40" y="126.70" width="5.6" height="5.6" fill="#000"/>
<line x1="581.30" y1="155.60" x2="581.30" y2="164.60" stroke="#333" stroke-width="0.8" />
<line x1="714.50" y1="155.60" x2="714.50" y2="164.60" stroke="#333" stroke-width="0.8" />
<line x1="596.50" y1="151.00" x2="596.50" y2="160.00" stroke="#333" stroke-width="0.8" />
<line x1="699.30" y1="151.00" x2="699.30" y2="160.00" stroke="#333" stroke-width="0.8" />
<line x1="611.30" y1="155.10" x2="611.30" y2="164.10" stroke="#333" stroke-width="0.8" />
<line x1="684.50" y1="155.10" x2="684.50" y2="164.10" stroke="#333" stroke-width="0.8" />
<line x1="626.10" y1="157.80" x2="626.10" y2="166.80" stroke="#333" stroke-width="0.8" />
<line x1="669.70" y1="157.80" x2="669.70" y2="166.80" stroke="#333" stroke-width="0.8" />
<line x1="640.60" y1="159.30" x2="640.60" y2="168.30" stroke="#333" stroke-width="0.8" />
<line x1="655.20" y1="159.30" x2="655.20" y2="168.30" stroke="#333" stroke-width="0.8" />
<rect x="578.50" y="157.30" width="5.6" height="5.6" fill="#000"/>
<rect x="711.70" y="157.30" width="5.6" height="5.6" fill="#000"/>
<rect x="593.70" y="152.70" width="5.6" height="5.6" fill="#000"/>
<rect x="696.50" y="152.70" width="5.6" height="5.6" fill="#000"/>
<rect x="608.50" y="156.80" width="5.6" height="5.6" fill="#000"/>
<rect x="681.70" y="156.80" width="5.6" height="5.6" fill="#000"/>
<rect x="623.30" y="159.50" width="5.6" height="5.6" fill="#000"/>
<rect x="666.90" y="159.50" width="5.6" height="5.6" fill="#000"/>
<rect x="637.80" y="161.00" width="5.6" height="5.6" fill="#000"/>
<rect x="652.40" y="161.00" width="5.6" height="5.6" fill="#000"/>
<text transform="translate(647.50,68.30) scale(1.13,1)" font-size="15.7" text-anchor="middle" >7000</text>
<text transform="translate(647.50,118.50) scale(1.13,1)" font-size="15.7" text-anchor="middle" >2360</text>
<text transform="translate(647.50,157.00) scale(1.13,1)" font-size="15.7" text-anchor="middle" >900</text>
<line x1="78.70" y1="612.30" x2="78.70" y2="600.80" stroke="#222" stroke-width="0.8" />
<line x1="95.74" y1="612.30" x2="95.74" y2="606.50" stroke="#222" stroke-width="0.8" />
<line x1="112.78" y1="612.30" x2="112.78" y2="606.50" stroke="#222" stroke-width="0.8" />
<line x1="129.82" y1="612.30" x2="129.82" y2="606.50" stroke="#222" stroke-width="0.8" />
<line x1="146.86" y1="612.30" x2="146.86" y2="600.80" stroke="#222" stroke-width="0.8" />
<line x1="163.90" y1="612.30" x2="163.90" y2="606.50" stroke="#222" stroke-width="0.8" />
<line x1="180.94" y1="612.30" x2="180.94" y2="606.50" stroke="#222" stroke-width="0.8" />
<line x1="197.98" y1="612.30" x2="197.98" y2="606.50" stroke="#222" stroke-width="0.8" />
<line x1="215.02" y1="612.30" x2="215.02" y2="600.80" stroke="#222" stroke-width="0.8" />
<line x1="232.06" y1="612.30" x2="232.06" y2="606.50" stroke="#222" stroke-width="0.8" />
<line x1="249.10" y1="612.30" x2="249.10" y2="606.50" stroke="#222" stroke-width="0.8" />
<line x1="266.14" y1="612.30" x2="266.14" y2="606.50" stroke="#222" stroke-width="0.8" />
<line x1="283.18" y1="612.30" x2="283.18" y2="600.80" stroke="#222" stroke-width="0.8" />
<line x1="300.22" y1="612.30" x2="300.22" y2="606.50" stroke="#222" stroke-width="0.8" />
<line x1="317.26" y1="612.30" x2="317.26" y2="606.50" stroke="#222" stroke-width="0.8" />
<line x1="334.30" y1="612.30" x2="334.30" y2="606.50" stroke="#222" stroke-width="0.8" />
<line x1="351.34" y1="612.30" x2="351.34" y2="600.80" stroke="#222" stroke-width="0.8" />
<line x1="368.38" y1="612.30" x2="368.38" y2="606.50" stroke="#222" stroke-width="0.8" />
<line x1="385.42" y1="612.30" x2="385.42" y2="606.50" stroke="#222" stroke-width="0.8" />
<line x1="402.46" y1="612.30" x2="402.46" y2="606.50" stroke="#222" stroke-width="0.8" />
<line x1="78.70" y1="602.32" x2="85.00" y2="602.32" stroke="#444" stroke-width="0.8" />
<line x1="78.70" y1="596.57" x2="85.00" y2="596.57" stroke="#444" stroke-width="0.8" />
<line x1="78.70" y1="592.48" x2="85.00" y2="592.48" stroke="#444" stroke-width="0.8" />
<line x1="78.70" y1="589.32" x2="85.00" y2="589.32" stroke="#444" stroke-width="0.8" />
<line x1="78.70" y1="586.73" x2="85.00" y2="586.73" stroke="#444" stroke-width="0.8" />
<line x1="78.70" y1="584.54" x2="85.00" y2="584.54" stroke="#444" stroke-width="0.8" />
<line x1="78.70" y1="582.65" x2="85.00" y2="582.65" stroke="#444" stroke-width="0.8" />
<line x1="78.70" y1="580.98" x2="85.00" y2="580.98" stroke="#444" stroke-width="0.8" />
<line x1="78.70" y1="579.48" x2="91.70" y2="579.48" stroke="#222" stroke-width="0.8" />
<line x1="78.70" y1="569.64" x2="85.00" y2="569.64" stroke="#444" stroke-width="0.8" />
<line x1="78.70" y1="563.89" x2="85.00" y2="563.89" stroke="#444" stroke-width="0.8" />
<line x1="78.70" y1="559.80" x2="85.00" y2="559.80" stroke="#444" stroke-width="0.8" />
<line x1="78.70" y1="556.64" x2="85.00" y2="556.64" stroke="#444" stroke-width="0.8" />
<line x1="78.70" y1="554.05" x2="85.00" y2="554.05" stroke="#444" stroke-width="0.8" />
<line x1="78.70" y1="551.86" x2="85.00" y2="551.86" stroke="#444" stroke-width="0.8" />
<line x1="78.70" y1="549.97" x2="85.00" y2="549.97" stroke="#444" stroke-width="0.8" />
<line x1="78.70" y1="548.30" x2="85.00" y2="548.30" stroke="#444" stroke-width="0.8" />
<line x1="78.70" y1="546.80" x2="91.70" y2="546.80" stroke="#222" stroke-width="0.8" />
<line x1="78.70" y1="536.96" x2="85.00" y2="536.96" stroke="#444" stroke-width="0.8" />
<line x1="78.70" y1="531.21" x2="85.00" y2="531.21" stroke="#444" stroke-width="0.8" />
<line x1="78.70" y1="527.12" x2="85.00" y2="527.12" stroke="#444" stroke-width="0.8" />
<line x1="78.70" y1="523.96" x2="85.00" y2="523.96" stroke="#444" stroke-width="0.8" />
<line x1="78.70" y1="521.37" x2="85.00" y2="521.37" stroke="#444" stroke-width="0.8" />
<line x1="78.70" y1="519.18" x2="85.00" y2="519.18" stroke="#444" stroke-width="0.8" />
<line x1="78.70" y1="517.29" x2="85.00" y2="517.29" stroke="#444" stroke-width="0.8" />
<line x1="78.70" y1="515.62" x2="85.00" y2="515.62" stroke="#444" stroke-width="0.8" />
<line x1="78.70" y1="514.12" x2="91.70" y2="514.12" stroke="#222" stroke-width="0.8" />
<line x1="78.70" y1="504.28" x2="85.00" y2="504.28" stroke="#444" stroke-width="0.8" />
<line x1="78.70" y1="498.53" x2="85.00" y2="498.53" stroke="#444" stroke-width="0.8" />
<line x1="78.70" y1="494.44" x2="85.00" y2="494.44" stroke="#444" stroke-width="0.8" />
<line x1="78.70" y1="491.28" x2="85.00" y2="491.28" stroke="#444" stroke-width="0.8" />
<line x1="78.70" y1="488.69" x2="85.00" y2="488.69" stroke="#444" stroke-width="0.8" />
<line x1="78.70" y1="486.50" x2="85.00" y2="486.50" stroke="#444" stroke-width="0.8" />
<line x1="78.70" y1="484.61" x2="85.00" y2="484.61" stroke="#444" stroke-width="0.8" />
<line x1="78.70" y1="482.94" x2="85.00" y2="482.94" stroke="#444" stroke-width="0.8" />
<line x1="78.70" y1="481.44" x2="91.70" y2="481.44" stroke="#222" stroke-width="0.8" />
<line x1="78.70" y1="471.60" x2="85.00" y2="471.60" stroke="#444" stroke-width="0.8" />
<line x1="78.70" y1="465.85" x2="85.00" y2="465.85" stroke="#444" stroke-width="0.8" />
<line x1="78.70" y1="461.76" x2="85.00" y2="461.76" stroke="#444" stroke-width="0.8" />
<line x1="78.70" y1="458.60" x2="85.00" y2="458.60" stroke="#444" stroke-width="0.8" />
<line x1="78.70" y1="456.01" x2="85.00" y2="456.01" stroke="#444" stroke-width="0.8" />
<line x1="78.70" y1="453.82" x2="85.00" y2="453.82" stroke="#444" stroke-width="0.8" />
<line x1="78.70" y1="451.93" x2="85.00" y2="451.93" stroke="#444" stroke-width="0.8" />
<line x1="78.70" y1="450.26" x2="85.00" y2="450.26" stroke="#444" stroke-width="0.8" />
<line x1="78.70" y1="448.76" x2="91.70" y2="448.76" stroke="#222" stroke-width="0.8" />
<line x1="78.70" y1="438.92" x2="85.00" y2="438.92" stroke="#444" stroke-width="0.8" />
<line x1="78.70" y1="433.17" x2="85.00" y2="433.17" stroke="#444" stroke-width="0.8" />
<line x1="78.70" y1="429.08" x2="85.00" y2="429.08" stroke="#444" stroke-width="0.8" />
<line x1="78.70" y1="425.92" x2="85.00" y2="425.92" stroke="#444" stroke-width="0.8" />
<line x1="78.70" y1="423.33" x2="85.00" y2="423.33" stroke="#444" stroke-width="0.8" />
<line x1="78.70" y1="421.14" x2="85.00" y2="421.14" stroke="#444" stroke-width="0.8" />
<line x1="78.70" y1="419.25" x2="85.00" y2="419.25" stroke="#444" stroke-width="0.8" />
<line x1="78.70" y1="417.58" x2="85.00" y2="417.58" stroke="#444" stroke-width="0.8" />
<line x1="78.70" y1="416.08" x2="91.70" y2="416.08" stroke="#222" stroke-width="0.8" />
<line x1="78.70" y1="406.24" x2="85.00" y2="406.24" stroke="#444" stroke-width="0.8" />
<line x1="78.70" y1="400.49" x2="85.00" y2="400.49" stroke="#444" stroke-width="0.8" />
<line x1="78.70" y1="396.40" x2="85.00" y2="396.40" stroke="#444" stroke-width="0.8" />
<line x1="78.70" y1="393.24" x2="85.00" y2="393.24" stroke="#444" stroke-width="0.8" />
<line x1="78.70" y1="390.65" x2="85.00" y2="390.65" stroke="#444" stroke-width="0.8" />
<line x1="78.70" y1="388.46" x2="85.00" y2="388.46" stroke="#444" stroke-width="0.8" />
<line x1="78.70" y1="386.57" x2="85.00" y2="386.57" stroke="#444" stroke-width="0.8" />
<line x1="78.70" y1="384.90" x2="85.00" y2="384.90" stroke="#444" stroke-width="0.8" />
<line x1="78.70" y1="383.40" x2="91.70" y2="383.40" stroke="#222" stroke-width="0.8" />
<line x1="78.70" y1="373.56" x2="85.00" y2="373.56" stroke="#444" stroke-width="0.8" />
<line x1="78.70" y1="367.81" x2="85.00" y2="367.81" stroke="#444" stroke-width="0.8" />
<line x1="78.70" y1="363.72" x2="85.00" y2="363.72" stroke="#444" stroke-width="0.8" />
<line x1="78.70" y1="360.56" x2="85.00" y2="360.56" stroke="#444" stroke-width="0.8" />
<line x1="78.70" y1="357.97" x2="85.00" y2="357.97" stroke="#444" stroke-width="0.8" />
<line x1="78.70" y1="355.78" x2="85.00" y2="355.78" stroke="#444" stroke-width="0.8" />
<line x1="78.70" y1="353.89" x2="85.00" y2="353.89" stroke="#444" stroke-width="0.8" />
<line x1="78.70" y1="352.22" x2="85.00" y2="352.22" stroke="#444" stroke-width="0.8" />
<line x1="78.70" y1="350.72" x2="91.70" y2="350.72" stroke="#222" stroke-width="0.8" />
<line x1="78.70" y1="340.88" x2="85.00" y2="340.88" stroke="#444" stroke-width="0.8" />
<rect x="78.7" y="335.0" width="323.75" height="277.29999999999995" fill="none" stroke="#000" stroke-width="1.45"/>
<text transform="translate(78.70,631.00) scale(1.1,1)" font-size="15.7" text-anchor="middle" >0</text>
<text transform="translate(146.86,631.00) scale(1.1,1)" font-size="15.7" text-anchor="middle" >2</text>
<text transform="translate(215.02,631.00) scale(1.1,1)" font-size="15.7" text-anchor="middle" >4</text>
<text transform="translate(283.18,631.00) scale(1.1,1)" font-size="15.7" text-anchor="middle" >6</text>
<text transform="translate(351.34,631.00) scale(1.1,1)" font-size="15.7" text-anchor="middle" >8</text>
<text transform="translate(61.60,355.92) scale(1.06,1)" font-size="15.7" text-anchor="end" >10</text>
<text transform="translate(56.80,421.38) scale(1.06,1)" font-size="15.7" text-anchor="end" >10</text>
<text transform="translate(73.40,407.78) scale(1.15,1)" font-size="12" text-anchor="end" >-1</text>
<text transform="translate(56.80,486.74) scale(1.06,1)" font-size="15.7" text-anchor="end" >10</text>
<text transform="translate(73.40,473.14) scale(1.15,1)" font-size="12" text-anchor="end" >-3</text>
<text transform="translate(56.80,552.10) scale(1.06,1)" font-size="15.7" text-anchor="end" >10</text>
<text transform="translate(73.40,538.50) scale(1.15,1)" font-size="12" text-anchor="end" >-5</text>
<text transform="translate(56.80,617.46) scale(1.06,1)" font-size="15.7" text-anchor="end" >10</text>
<text transform="translate(73.40,603.86) scale(1.15,1)" font-size="12" text-anchor="end" >-7</text>
<text transform="translate(99.60,362.50) scale(1.14,1)" font-size="15.7" text-anchor="start" >NSD</text>
<text transform="translate(277.40,368.50) scale(1.14,1)" font-size="15.7" text-anchor="start" >QGSJET II-04</text>
<g transform="translate(401.8,648) scale(1.12,1)"><text x="0" y="0" font-size="15.7" text-anchor="end">p<tspan font-size="12.5" dy="4.5">t</tspan><tspan dy="-4.5"> (GeV/c)</tspan></text></g>
<g transform="translate(19.2,468.5) rotate(-90) scale(1.045,1)"><text x="0" y="0" font-size="15.7">dn/dyd<tspan font-size="11.5" dy="-8">2</tspan><tspan dy="8">p</tspan><tspan font-size="11.5" dy="4">t</tspan><tspan dy="-4"> (c</tspan><tspan font-size="11.5" dy="-8">2</tspan><tspan dy="8">/GeV</tspan><tspan font-size="11.5" dy="-8">2</tspan><tspan dy="8">)</tspan></text></g>
<path d="M81.8,357.6 L82.6,358.0 L83.3,358.3 L84.1,358.7 L84.8,359.1 L85.6,359.5 L86.3,360.0 L87.0,360.5 L87.7,361.1 L88.4,361.7 L89.0,362.3 L89.6,363.0 L90.2,363.8 L90.7,364.6 L91.2,365.6 L91.7,366.5 L92.1,367.6 L92.6,368.6 L93.1,369.7 L93.6,370.8 L94.1,371.9 L94.7,373.0 L95.3,374.3 L95.9,375.6 L96.5,377.0 L97.2,378.6 L98.0,380.3 L98.8,382.1 L99.6,384.0 L100.4,385.9 L101.2,387.8 L101.9,389.6 L102.5,391.3 L103.2,393.1 L103.9,395.0 L104.9,397.1 L106.1,399.5 L107.7,402.4 L109.7,405.6 L111.9,409.1 L114.2,412.6 L116.4,415.9 L118.4,418.9 L120.2,421.5 L122.0,423.9 L123.7,426.1 L125.4,428.2 L127.1,430.3 L128.8,432.4 L130.5,434.6 L132.3,436.7 L134.0,438.8 L135.7,440.9 L137.5,442.9 L139.2,444.9 L140.9,446.8 L142.7,448.7 L144.4,450.5 L146.1,452.3 L147.9,454.0 L149.6,455.7 L151.3,457.3 L153.1,458.9 L154.8,460.4 L156.5,461.8 L158.3,463.3 L160.0,464.7 L161.8,466.1 L163.5,467.5 L165.3,468.8 L167.0,470.1 L168.8,471.5 L170.6,472.8 L172.4,474.1 L174.2,475.5 L176.0,476.8 L177.8,478.1 L179.6,479.4 L181.4,480.7 L183.2,481.9 L185.0,483.1 L186.8,484.2 L188.6,485.3 L190.4,486.4 L192.2,487.6 L194.0,488.8 L195.8,489.9 L197.5,491.1 L199.3,492.3 L201.0,493.5 L202.8,494.7 L204.5,495.9 L206.3,497.1 L208.0,498.3 L209.7,499.6 L211.5,500.8 L213.2,502.0 L214.9,503.2 L216.7,504.4 L218.5,505.6 L220.2,506.8 L222.0,508.0 L223.7,509.2 L225.4,510.3 L226.9,511.4 L228.5,512.5 L230.1,513.6 L231.9,514.7 L234.0,516.0 L236.4,517.4 L239.1,518.9 L242.0,520.4 L244.9,522.0 L247.7,523.5 L250.4,525.0 L252.9,526.5 L255.3,527.9 L257.6,529.3 L259.9,530.7 L262.2,532.1 L264.5,533.5 L266.8,534.9 L269.2,536.2 L271.5,537.6 L273.8,538.9 L276.2,540.2 L278.5,541.5 L280.8,542.7 L283.2,543.9 L285.5,545.1 L287.9,546.2 L290.2,547.3 L292.6,548.4 L295.0,549.5 L297.3,550.5 L299.7,551.4 L302.0,552.4 L304.4,553.4 L306.7,554.5 L309.1,555.6 L311.4,556.8 L313.8,558.0 L316.1,559.2 L318.5,560.4 L320.8,561.6 L323.1,562.7 L325.5,563.9 L327.8,565.0 L330.1,566.1 L332.5,567.2 L334.8,568.2 L337.1,569.2 L339.5,570.1 L341.8,571.0 L344.2,571.8 L346.5,572.6 L348.9,573.5 L351.2,574.4 L353.6,575.2 L355.9,576.0 L358.3,576.8 L360.6,577.7 L363.0,578.5 L370.0,581.0 L373.0,581.0 L377.1,583.5 L381.0,584.0 L384.0,586.0 L388.3,586.5 L392.0,588.0 L395.0,588.0 L398.2,589.5" fill="none" stroke="#ff0000" stroke-width="2.75" stroke-linejoin="round" stroke-linecap="butt"/>
<path d="M81.8,362.3 L82.7,363.5 L83.6,364.7 L84.5,365.8 L85.4,367.0 L86.3,368.3 L87.1,369.5 L87.8,370.8 L88.5,372.1 L89.1,373.4 L89.7,374.8 L90.4,376.1 L91.0,377.5 L91.7,378.9 L92.3,380.3 L93.0,381.8 L93.7,383.2 L94.3,384.6 L95.0,386.0 L95.7,387.4 L96.3,388.7 L97.0,390.0 L97.6,391.3 L98.3,392.6 L99.0,394.0 L99.7,395.3 L100.3,396.6 L101.0,397.9 L101.7,399.3 L102.4,400.8 L103.3,402.5 L104.2,404.4 L105.2,406.3 L106.2,408.4 L107.3,410.6 L108.6,413.0 L109.9,415.6 L111.4,418.4 L113.1,421.5 L114.9,424.7 L116.7,427.9 L118.5,431.2 L120.3,434.3 L122.0,437.3 L123.8,440.3 L125.5,443.3 L127.2,446.2 L129.0,449.1 L130.7,452.0 L132.4,454.8 L134.2,457.6 L135.9,460.4 L137.6,463.1 L139.4,465.7 L141.1,468.3 L142.8,470.8 L144.6,473.3 L146.3,475.7 L148.0,478.1 L149.8,480.4 L151.5,482.7 L153.2,484.9 L154.9,487.2 L156.6,489.3 L158.3,491.4 L160.0,493.5 L161.7,495.5 L163.4,497.5 L165.1,499.4 L166.8,501.2 L168.6,503.0 L170.3,504.8 L172.0,506.5 L173.7,508.1 L175.4,509.7 L177.1,511.2 L178.7,512.7 L180.5,514.3 L182.3,516.0 L184.2,517.8 L186.1,519.6 L188.0,521.6 L190.0,523.5 L192.1,525.5 L194.2,527.5 L196.4,529.5 L198.7,531.7 L201.1,533.8 L203.5,536.0 L205.8,538.0 L208.2,540.0 L210.5,541.9 L212.9,543.6 L215.2,545.4 L217.5,547.1 L219.9,548.7 L222.2,550.4 L224.5,552.1 L226.9,553.7 L229.2,555.3 L231.6,556.9 L233.9,558.6 L236.3,560.2 L238.7,561.8 L241.0,563.5 L243.4,565.1 L245.7,566.8 L248.1,568.5 L250.4,570.1 L252.8,571.7 L255.1,573.4 L257.4,575.0 L259.8,576.6 L262.2,578.3 L264.5,579.9 L268.0,582.0 L272.9,585.0 L276.0,589.0 L278.5,591.0 L283.0,594.0 L287.0,597.7 L291.0,599.0 L295.4,601.8 L300.0,602.3 L303.9,603.5 L307.0,605.0 L309.5,607.0 L313.9,612.3" fill="none" stroke="#ff0000" stroke-width="2.75" stroke-linejoin="round" stroke-linecap="butt"/>
<line x1="203.40" y1="538.00" x2="203.40" y2="546.50" stroke="#333" stroke-width="0.8" />
<line x1="218.60" y1="545.00" x2="218.60" y2="553.00" stroke="#333" stroke-width="0.8" />
<line x1="232.10" y1="551.00" x2="232.10" y2="559.00" stroke="#333" stroke-width="0.8" />
<line x1="272.90" y1="580.00" x2="272.90" y2="594.00" stroke="#333" stroke-width="0.8" />
<line x1="307.30" y1="588.50" x2="307.30" y2="609.50" stroke="#333" stroke-width="0.8" />
<line x1="269.20" y1="543.00" x2="269.20" y2="548.50" stroke="#333" stroke-width="0.8" />
<line x1="296.80" y1="546.50" x2="296.80" y2="558.00" stroke="#333" stroke-width="0.8" />
<line x1="310.40" y1="547.00" x2="310.40" y2="555.00" stroke="#333" stroke-width="0.8" />
<line x1="334.60" y1="559.00" x2="334.60" y2="568.50" stroke="#333" stroke-width="0.8" />
<line x1="385.50" y1="573.50" x2="385.50" y2="584.00" stroke="#333" stroke-width="0.8" />
<circle cx="86.90" cy="367.40" r="2.5" fill="#000"/>
<circle cx="90.20" cy="374.70" r="2.5" fill="#000"/>
<circle cx="93.70" cy="382.70" r="2.5" fill="#000"/>
<circle cx="97.20" cy="390.30" r="2.5" fill="#000"/>
<circle cx="100.60" cy="397.90" r="2.5" fill="#000"/>
<circle cx="104.10" cy="404.60" r="2.5" fill="#000"/>
<circle cx="107.40" cy="411.50" r="2.5" fill="#000"/>
<circle cx="110.90" cy="418.30" r="2.5" fill="#000"/>
<circle cx="114.40" cy="423.90" r="2.5" fill="#000"/>
<circle cx="117.70" cy="429.80" r="2.5" fill="#000"/>
<circle cx="121.10" cy="435.40" r="2.5" fill="#000"/>
<circle cx="124.60" cy="441.00" r="2.5" fill="#000"/>
<circle cx="127.90" cy="446.20" r="2.5" fill="#000"/>
<circle cx="131.50" cy="451.40" r="2.5" fill="#000"/>
<circle cx="134.80" cy="456.20" r="2.5" fill="#000"/>
<circle cx="138.30" cy="461.20" r="2.5" fill="#000"/>
<circle cx="141.70" cy="466.60" r="2.5" fill="#000"/>
<circle cx="145.20" cy="470.70" r="2.5" fill="#000"/>
<circle cx="148.70" cy="475.30" r="2.5" fill="#000"/>
<circle cx="152.10" cy="479.70" r="2.5" fill="#000"/>
<circle cx="155.60" cy="484.30" r="2.5" fill="#000"/>
<circle cx="158.90" cy="485.90" r="2.5" fill="#000"/>
<circle cx="162.30" cy="492.60" r="2.5" fill="#000"/>
<circle cx="165.80" cy="499.90" r="2.5" fill="#000"/>
<circle cx="169.10" cy="499.90" r="2.5" fill="#000"/>
<circle cx="172.70" cy="505.50" r="2.5" fill="#000"/>
<circle cx="176.00" cy="505.50" r="2.5" fill="#000"/>
<circle cx="179.30" cy="507.60" r="2.5" fill="#000"/>
<circle cx="183.10" cy="515.10" r="2.5" fill="#000"/>
<circle cx="186.20" cy="515.10" r="2.5" fill="#000"/>
<circle cx="189.70" cy="520.70" r="2.5" fill="#000"/>
<circle cx="192.60" cy="518.00" r="2.5" fill="#000"/>
<circle cx="196.20" cy="529.00" r="2.5" fill="#000"/>
<circle cx="199.50" cy="531.50" r="2.5" fill="#000"/>
<circle cx="203.40" cy="541.90" r="2.5" fill="#000"/>
<circle cx="210.10" cy="537.70" r="2.5" fill="#000"/>
<circle cx="218.60" cy="548.70" r="2.5" fill="#000"/>
<circle cx="232.10" cy="554.90" r="2.5" fill="#000"/>
<circle cx="272.90" cy="585.60" r="2.5" fill="#000"/>
<circle cx="307.30" cy="595.40" r="2.5" fill="#000"/>
<polygon points="92.70,367.10 93.76,369.84 96.69,370.00 94.42,371.86 95.17,374.70 92.70,373.11 90.23,374.70 90.98,371.86 88.71,370.00 91.64,369.84" fill="#000"/>
<polygon points="94.40,370.60 95.46,373.34 98.39,373.50 96.12,375.36 96.87,378.20 94.40,376.61 91.93,378.20 92.68,375.36 90.41,373.50 93.34,373.34" fill="#000"/>
<polygon points="96.10,374.10 97.16,376.84 100.09,377.00 97.82,378.86 98.57,381.70 96.10,380.11 93.63,381.70 94.38,378.86 92.11,377.00 95.04,376.84" fill="#000"/>
<polygon points="97.80,377.45 98.86,380.19 101.79,380.35 99.52,382.21 100.27,385.05 97.80,383.46 95.33,385.05 96.08,382.21 93.81,380.35 96.74,380.19" fill="#000"/>
<polygon points="99.50,380.80 100.56,383.54 103.49,383.70 101.22,385.56 101.97,388.40 99.50,386.81 97.03,388.40 97.78,385.56 95.51,383.70 98.44,383.54" fill="#000"/>
<polygon points="101.20,383.95 102.26,386.69 105.19,386.85 102.92,388.71 103.67,391.55 101.20,389.96 98.73,391.55 99.48,388.71 97.21,386.85 100.14,386.69" fill="#000"/>
<polygon points="102.90,387.10 103.96,389.84 106.89,390.00 104.62,391.86 105.37,394.70 102.90,393.11 100.43,394.70 101.18,391.86 98.91,390.00 101.84,389.84" fill="#000"/>
<polygon points="104.60,389.95 105.66,392.69 108.59,392.85 106.32,394.71 107.07,397.55 104.60,395.96 102.13,397.55 102.88,394.71 100.61,392.85 103.54,392.69" fill="#000"/>
<polygon points="106.30,392.80 107.36,395.54 110.29,395.70 108.02,397.56 108.77,400.40 106.30,398.81 103.83,400.40 104.58,397.56 102.31,395.70 105.24,395.54" fill="#000"/>
<polygon points="107.75,395.35 108.81,398.09 111.74,398.25 109.47,400.11 110.22,402.95 107.75,401.36 105.28,402.95 106.03,400.11 103.76,398.25 106.69,398.09" fill="#000"/>
<polygon points="109.20,397.90 110.26,400.64 113.19,400.80 110.92,402.66 111.67,405.50 109.20,403.91 106.73,405.50 107.48,402.66 105.21,400.80 108.14,400.64" fill="#000"/>
<polygon points="111.30,401.00 112.36,403.74 115.29,403.90 113.02,405.76 113.77,408.60 111.30,407.01 108.83,408.60 109.58,405.76 107.31,403.90 110.24,403.74" fill="#000"/>
<polygon points="113.40,404.10 114.46,406.84 117.39,407.00 115.12,408.86 115.87,411.70 113.40,410.11 110.93,411.70 111.68,408.86 109.41,407.00 112.34,406.84" fill="#000"/>
<polygon points="115.10,406.70 116.16,409.44 119.09,409.60 116.82,411.46 117.57,414.30 115.10,412.71 112.63,414.30 113.38,411.46 111.11,409.60 114.04,409.44" fill="#000"/>
<polygon points="116.80,409.30 117.86,412.04 120.79,412.20 118.52,414.06 119.27,416.90 116.80,415.31 114.33,416.90 115.08,414.06 112.81,412.20 115.74,412.04" fill="#000"/>
<polygon points="118.50,411.85 119.56,414.59 122.49,414.75 120.22,416.61 120.97,419.45 118.50,417.86 116.03,419.45 116.78,416.61 114.51,414.75 117.44,414.59" fill="#000"/>
<polygon points="120.20,414.40 121.26,417.14 124.19,417.30 121.92,419.16 122.67,422.00 120.20,420.41 117.73,422.00 118.48,419.16 116.21,417.30 119.14,417.14" fill="#000"/>
<polygon points="121.90,416.85 122.96,419.59 125.89,419.75 123.62,421.61 124.37,424.45 121.90,422.86 119.43,424.45 120.18,421.61 117.91,419.75 120.84,419.59" fill="#000"/>
<polygon points="123.60,419.30 124.66,422.04 127.59,422.20 125.32,424.06 126.07,426.90 123.60,425.31 121.13,426.90 121.88,424.06 119.61,422.20 122.54,422.04" fill="#000"/>
<polygon points="125.30,421.55 126.36,424.29 129.29,424.45 127.02,426.31 127.77,429.15 125.30,427.56 122.83,429.15 123.58,426.31 121.31,424.45 124.24,424.29" fill="#000"/>
<polygon points="127.00,423.80 128.06,426.54 130.99,426.70 128.72,428.56 129.47,431.40 127.00,429.81 124.53,431.40 125.28,428.56 123.01,426.70 125.94,426.54" fill="#000"/>
<polygon points="128.70,425.95 129.76,428.69 132.69,428.85 130.42,430.71 131.17,433.55 128.70,431.96 126.23,433.55 126.98,430.71 124.71,428.85 127.64,428.69" fill="#000"/>
<polygon points="130.40,428.10 131.46,430.84 134.39,431.00 132.12,432.86 132.87,435.70 130.40,434.11 127.93,435.70 128.68,432.86 126.41,431.00 129.34,430.84" fill="#000"/>
<polygon points="133.80,432.50 134.86,435.24 137.79,435.40 135.52,437.26 136.27,440.10 133.80,438.51 131.33,440.10 132.08,437.26 129.81,435.40 132.74,435.24" fill="#000"/>
<polygon points="137.20,436.80 138.26,439.54 141.19,439.70 138.92,441.56 139.67,444.40 137.20,442.81 134.73,444.40 135.48,441.56 133.21,439.70 136.14,439.54" fill="#000"/>
<polygon points="140.60,441.30 141.66,444.04 144.59,444.20 142.32,446.06 143.07,448.90 140.60,447.31 138.13,448.90 138.88,446.06 136.61,444.20 139.54,444.04" fill="#000"/>
<polygon points="144.00,445.30 145.06,448.04 147.99,448.20 145.72,450.06 146.47,452.90 144.00,451.31 141.53,452.90 142.28,450.06 140.01,448.20 142.94,448.04" fill="#000"/>
<polygon points="147.40,448.80 148.46,451.54 151.39,451.70 149.12,453.56 149.87,456.40 147.40,454.81 144.93,456.40 145.68,453.56 143.41,451.70 146.34,451.54" fill="#000"/>
<polygon points="150.80,452.30 151.86,455.04 154.79,455.20 152.52,457.06 153.27,459.90 150.80,458.31 148.33,459.90 149.08,457.06 146.81,455.20 149.74,455.04" fill="#000"/>
<polygon points="154.20,455.30 155.26,458.04 158.19,458.20 155.92,460.06 156.67,462.90 154.20,461.31 151.73,462.90 152.48,460.06 150.21,458.20 153.14,458.04" fill="#000"/>
<polygon points="157.60,458.30 158.66,461.04 161.59,461.20 159.32,463.06 160.07,465.90 157.60,464.31 155.13,465.90 155.88,463.06 153.61,461.20 156.54,461.04" fill="#000"/>
<polygon points="161.00,460.80 162.06,463.54 164.99,463.70 162.72,465.56 163.47,468.40 161.00,466.81 158.53,468.40 159.28,465.56 157.01,463.70 159.94,463.54" fill="#000"/>
<polygon points="165.80,465.30 166.86,468.04 169.79,468.20 167.52,470.06 168.27,472.90 165.80,471.31 163.33,472.90 164.08,470.06 161.81,468.20 164.74,468.04" fill="#000"/>
<polygon points="169.60,467.60 170.66,470.34 173.59,470.50 171.32,472.36 172.07,475.20 169.60,473.61 167.13,475.20 167.88,472.36 165.61,470.50 168.54,470.34" fill="#000"/>
<polygon points="173.00,470.30 174.06,473.04 176.99,473.20 174.72,475.06 175.47,477.90 173.00,476.31 170.53,477.90 171.28,475.06 169.01,473.20 171.94,473.04" fill="#000"/>
<polygon points="176.80,472.80 177.86,475.54 180.79,475.70 178.52,477.56 179.27,480.40 176.80,478.81 174.33,480.40 175.08,477.56 172.81,475.70 175.74,475.54" fill="#000"/>
<polygon points="180.50,475.30 181.56,478.04 184.49,478.20 182.22,480.06 182.97,482.90 180.50,481.31 178.03,482.90 178.78,480.06 176.51,478.20 179.44,478.04" fill="#000"/>
<polygon points="184.10,478.00 185.16,480.74 188.09,480.90 185.82,482.76 186.57,485.60 184.10,484.01 181.63,485.60 182.38,482.76 180.11,480.90 183.04,480.74" fill="#000"/>
<polygon points="191.30,484.20 192.36,486.94 195.29,487.10 193.02,488.96 193.77,491.80 191.30,490.21 188.83,491.80 189.58,488.96 187.31,487.10 190.24,486.94" fill="#000"/>
<polygon points="198.30,488.50 199.36,491.24 202.29,491.40 200.02,493.26 200.77,496.10 198.30,494.51 195.83,496.10 196.58,493.26 194.31,491.40 197.24,491.24" fill="#000"/>
<polygon points="205.30,492.70 206.36,495.44 209.29,495.60 207.02,497.46 207.77,500.30 205.30,498.71 202.83,500.30 203.58,497.46 201.31,495.60 204.24,495.44" fill="#000"/>
<polygon points="211.80,497.50 212.86,500.24 215.79,500.40 213.52,502.26 214.27,505.10 211.80,503.51 209.33,505.10 210.08,502.26 207.81,500.40 210.74,500.24" fill="#000"/>
<polygon points="218.90,505.40 219.96,508.14 222.89,508.30 220.62,510.16 221.37,513.00 218.90,511.41 216.43,513.00 217.18,510.16 214.91,508.30 217.84,508.14" fill="#000"/>
<polygon points="225.60,505.90 226.66,508.64 229.59,508.80 227.32,510.66 228.07,513.50 225.60,511.91 223.13,513.50 223.88,510.66 221.61,508.80 224.54,508.64" fill="#000"/>
<polygon points="232.10,514.40 233.16,517.14 236.09,517.30 233.82,519.16 234.57,522.00 232.10,520.41 229.63,522.00 230.38,519.16 228.11,517.30 231.04,517.14" fill="#000"/>
<polygon points="239.10,513.80 240.16,516.54 243.09,516.70 240.82,518.56 241.57,521.40 239.10,519.81 236.63,521.40 237.38,518.56 235.11,516.70 238.04,516.54" fill="#000"/>
<polygon points="245.60,515.20 246.66,517.94 249.59,518.10 247.32,519.96 248.07,522.80 245.60,521.21 243.13,522.80 243.88,519.96 241.61,518.10 244.54,517.94" fill="#000"/>
<polygon points="256.00,525.10 257.06,527.84 259.99,528.00 257.72,529.86 258.47,532.70 256.00,531.11 253.53,532.70 254.28,529.86 252.01,528.00 254.94,527.84" fill="#000"/>
<polygon points="269.20,541.40 270.26,544.14 273.19,544.30 270.92,546.16 271.67,549.00 269.20,547.41 266.73,549.00 267.48,546.16 265.21,544.30 268.14,544.14" fill="#000"/>
<polygon points="283.30,535.50 284.36,538.24 287.29,538.40 285.02,540.26 285.77,543.10 283.30,541.51 280.83,543.10 281.58,540.26 279.31,538.40 282.24,538.24" fill="#000"/>
<polygon points="296.80,547.60 297.86,550.34 300.79,550.50 298.52,552.36 299.27,555.20 296.80,553.61 294.33,555.20 295.08,552.36 292.81,550.50 295.74,550.34" fill="#000"/>
<polygon points="310.40,546.70 311.46,549.44 314.39,549.60 312.12,551.46 312.87,554.30 310.40,552.71 307.93,554.30 308.68,551.46 306.41,549.60 309.34,549.44" fill="#000"/>
<polygon points="334.60,559.40 335.66,562.14 338.59,562.30 336.32,564.16 337.07,567.00 334.60,565.41 332.13,567.00 332.88,564.16 330.61,562.30 333.54,562.14" fill="#000"/>
<polygon points="385.50,574.30 386.56,577.04 389.49,577.20 387.22,579.06 387.97,581.90 385.50,580.31 383.03,581.90 383.78,579.06 381.51,577.20 384.44,577.04" fill="#000"/>
<text transform="translate(278.50,530.20) scale(1.13,1)" font-size="15.7" text-anchor="start" >1800 (| η| &lt; 1.0)</text>
<text transform="translate(129.00,575.20) scale(1.13,1)" font-size="15.7" text-anchor="start" >200 (| η| &lt; 2.5)</text>
<line x1="402.45" y1="383.20" x2="402.45" y2="607.00" stroke="#5e0000" stroke-width="1.45" />
<line x1="486.05" y1="612.30" x2="486.05" y2="600.80" stroke="#222" stroke-width="0.8" />
<line x1="513.03" y1="612.30" x2="513.03" y2="606.50" stroke="#222" stroke-width="0.8" />
<line x1="540.01" y1="612.30" x2="540.01" y2="606.50" stroke="#222" stroke-width="0.8" />
<line x1="566.99" y1="612.30" x2="566.99" y2="606.50" stroke="#222" stroke-width="0.8" />
<line x1="593.97" y1="612.30" x2="593.97" y2="600.80" stroke="#222" stroke-width="0.8" />
<line x1="620.95" y1="612.30" x2="620.95" y2="606.50" stroke="#222" stroke-width="0.8" />
<line x1="647.93" y1="612.30" x2="647.93" y2="606.50" stroke="#222" stroke-width="0.8" />
<line x1="674.91" y1="612.30" x2="674.91" y2="606.50" stroke="#222" stroke-width="0.8" />
<line x1="701.89" y1="612.30" x2="701.89" y2="600.80" stroke="#222" stroke-width="0.8" />
<line x1="728.87" y1="612.30" x2="728.87" y2="606.50" stroke="#222" stroke-width="0.8" />
<line x1="755.85" y1="612.30" x2="755.85" y2="606.50" stroke="#222" stroke-width="0.8" />
<line x1="782.83" y1="612.30" x2="782.83" y2="606.50" stroke="#222" stroke-width="0.8" />
<line x1="809.81" y1="612.30" x2="809.81" y2="600.80" stroke="#222" stroke-width="0.8" />
<line x1="486.05" y1="606.88" x2="492.35" y2="606.88" stroke="#444" stroke-width="0.8" />
<line x1="486.05" y1="603.04" x2="492.35" y2="603.04" stroke="#444" stroke-width="0.8" />
<line x1="486.05" y1="600.06" x2="492.35" y2="600.06" stroke="#444" stroke-width="0.8" />
<line x1="486.05" y1="597.62" x2="492.35" y2="597.62" stroke="#444" stroke-width="0.8" />
<line x1="486.05" y1="595.56" x2="492.35" y2="595.56" stroke="#444" stroke-width="0.8" />
<line x1="486.05" y1="593.78" x2="492.35" y2="593.78" stroke="#444" stroke-width="0.8" />
<line x1="486.05" y1="592.21" x2="492.35" y2="592.21" stroke="#444" stroke-width="0.8" />
<line x1="486.05" y1="590.80" x2="499.05" y2="590.80" stroke="#222" stroke-width="0.8" />
<line x1="486.05" y1="581.54" x2="492.35" y2="581.54" stroke="#444" stroke-width="0.8" />
<line x1="486.05" y1="576.12" x2="492.35" y2="576.12" stroke="#444" stroke-width="0.8" />
<line x1="486.05" y1="572.28" x2="492.35" y2="572.28" stroke="#444" stroke-width="0.8" />
<line x1="486.05" y1="569.30" x2="492.35" y2="569.30" stroke="#444" stroke-width="0.8" />
<line x1="486.05" y1="566.86" x2="492.35" y2="566.86" stroke="#444" stroke-width="0.8" />
<line x1="486.05" y1="564.80" x2="492.35" y2="564.80" stroke="#444" stroke-width="0.8" />
<line x1="486.05" y1="563.02" x2="492.35" y2="563.02" stroke="#444" stroke-width="0.8" />
<line x1="486.05" y1="561.45" x2="492.35" y2="561.45" stroke="#444" stroke-width="0.8" />
<line x1="486.05" y1="560.04" x2="499.05" y2="560.04" stroke="#222" stroke-width="0.8" />
<line x1="486.05" y1="550.78" x2="492.35" y2="550.78" stroke="#444" stroke-width="0.8" />
<line x1="486.05" y1="545.36" x2="492.35" y2="545.36" stroke="#444" stroke-width="0.8" />
<line x1="486.05" y1="541.52" x2="492.35" y2="541.52" stroke="#444" stroke-width="0.8" />
<line x1="486.05" y1="538.54" x2="492.35" y2="538.54" stroke="#444" stroke-width="0.8" />
<line x1="486.05" y1="536.10" x2="492.35" y2="536.10" stroke="#444" stroke-width="0.8" />
<line x1="486.05" y1="534.04" x2="492.35" y2="534.04" stroke="#444" stroke-width="0.8" />
<line x1="486.05" y1="532.26" x2="492.35" y2="532.26" stroke="#444" stroke-width="0.8" />
<line x1="486.05" y1="530.69" x2="492.35" y2="530.69" stroke="#444" stroke-width="0.8" />
<line x1="486.05" y1="529.28" x2="499.05" y2="529.28" stroke="#222" stroke-width="0.8" />
<line x1="486.05" y1="520.02" x2="492.35" y2="520.02" stroke="#444" stroke-width="0.8" />
<line x1="486.05" y1="514.60" x2="492.35" y2="514.60" stroke="#444" stroke-width="0.8" />
<line x1="486.05" y1="510.76" x2="492.35" y2="510.76" stroke="#444" stroke-width="0.8" />
<line x1="486.05" y1="507.78" x2="492.35" y2="507.78" stroke="#444" stroke-width="0.8" />
<line x1="486.05" y1="505.34" x2="492.35" y2="505.34" stroke="#444" stroke-width="0.8" />
<line x1="486.05" y1="503.28" x2="492.35" y2="503.28" stroke="#444" stroke-width="0.8" />
<line x1="486.05" y1="501.50" x2="492.35" y2="501.50" stroke="#444" stroke-width="0.8" />
<line x1="486.05" y1="499.93" x2="492.35" y2="499.93" stroke="#444" stroke-width="0.8" />
<line x1="486.05" y1="498.52" x2="499.05" y2="498.52" stroke="#222" stroke-width="0.8" />
<line x1="486.05" y1="489.26" x2="492.35" y2="489.26" stroke="#444" stroke-width="0.8" />
<line x1="486.05" y1="483.84" x2="492.35" y2="483.84" stroke="#444" stroke-width="0.8" />
<line x1="486.05" y1="480.00" x2="492.35" y2="480.00" stroke="#444" stroke-width="0.8" />
<line x1="486.05" y1="477.02" x2="492.35" y2="477.02" stroke="#444" stroke-width="0.8" />
<line x1="486.05" y1="474.58" x2="492.35" y2="474.58" stroke="#444" stroke-width="0.8" />
<line x1="486.05" y1="472.52" x2="492.35" y2="472.52" stroke="#444" stroke-width="0.8" />
<line x1="486.05" y1="470.74" x2="492.35" y2="470.74" stroke="#444" stroke-width="0.8" />
<line x1="486.05" y1="469.17" x2="492.35" y2="469.17" stroke="#444" stroke-width="0.8" />
<line x1="486.05" y1="467.76" x2="499.05" y2="467.76" stroke="#222" stroke-width="0.8" />
<line x1="486.05" y1="458.50" x2="492.35" y2="458.50" stroke="#444" stroke-width="0.8" />
<line x1="486.05" y1="453.08" x2="492.35" y2="453.08" stroke="#444" stroke-width="0.8" />
<line x1="486.05" y1="449.24" x2="492.35" y2="449.24" stroke="#444" stroke-width="0.8" />
<line x1="486.05" y1="446.26" x2="492.35" y2="446.26" stroke="#444" stroke-width="0.8" />
<line x1="486.05" y1="443.82" x2="492.35" y2="443.82" stroke="#444" stroke-width="0.8" />
<line x1="486.05" y1="441.76" x2="492.35" y2="441.76" stroke="#444" stroke-width="0.8" />
<line x1="486.05" y1="439.98" x2="492.35" y2="439.98" stroke="#444" stroke-width="0.8" />
<line x1="486.05" y1="438.41" x2="492.35" y2="438.41" stroke="#444" stroke-width="0.8" />
<line x1="486.05" y1="437.00" x2="499.05" y2="437.00" stroke="#222" stroke-width="0.8" />
<line x1="486.05" y1="427.74" x2="492.35" y2="427.74" stroke="#444" stroke-width="0.8" />
<line x1="486.05" y1="422.32" x2="492.35" y2="422.32" stroke="#444" stroke-width="0.8" />
<line x1="486.05" y1="418.48" x2="492.35" y2="418.48" stroke="#444" stroke-width="0.8" />
<line x1="486.05" y1="415.50" x2="492.35" y2="415.50" stroke="#444" stroke-width="0.8" />
<line x1="486.05" y1="413.06" x2="492.35" y2="413.06" stroke="#444" stroke-width="0.8" />
<line x1="486.05" y1="411.00" x2="492.35" y2="411.00" stroke="#444" stroke-width="0.8" />
<line x1="486.05" y1="409.22" x2="492.35" y2="409.22" stroke="#444" stroke-width="0.8" />
<line x1="486.05" y1="407.65" x2="492.35" y2="407.65" stroke="#444" stroke-width="0.8" />
<line x1="486.05" y1="406.24" x2="499.05" y2="406.24" stroke="#222" stroke-width="0.8" />
<line x1="486.05" y1="396.98" x2="492.35" y2="396.98" stroke="#444" stroke-width="0.8" />
<line x1="486.05" y1="391.56" x2="492.35" y2="391.56" stroke="#444" stroke-width="0.8" />
<line x1="486.05" y1="387.72" x2="492.35" y2="387.72" stroke="#444" stroke-width="0.8" />
<line x1="486.05" y1="384.74" x2="492.35" y2="384.74" stroke="#444" stroke-width="0.8" />
<line x1="486.05" y1="382.30" x2="492.35" y2="382.30" stroke="#444" stroke-width="0.8" />
<line x1="486.05" y1="380.24" x2="492.35" y2="380.24" stroke="#444" stroke-width="0.8" />
<line x1="486.05" y1="378.46" x2="492.35" y2="378.46" stroke="#444" stroke-width="0.8" />
<line x1="486.05" y1="376.89" x2="492.35" y2="376.89" stroke="#444" stroke-width="0.8" />
<line x1="486.05" y1="375.48" x2="499.05" y2="375.48" stroke="#222" stroke-width="0.8" />
<line x1="486.05" y1="366.22" x2="492.35" y2="366.22" stroke="#444" stroke-width="0.8" />
<line x1="486.05" y1="360.80" x2="492.35" y2="360.80" stroke="#444" stroke-width="0.8" />
<line x1="486.05" y1="356.96" x2="492.35" y2="356.96" stroke="#444" stroke-width="0.8" />
<line x1="486.05" y1="353.98" x2="492.35" y2="353.98" stroke="#444" stroke-width="0.8" />
<line x1="486.05" y1="351.54" x2="492.35" y2="351.54" stroke="#444" stroke-width="0.8" />
<line x1="486.05" y1="349.48" x2="492.35" y2="349.48" stroke="#444" stroke-width="0.8" />
<line x1="486.05" y1="347.70" x2="492.35" y2="347.70" stroke="#444" stroke-width="0.8" />
<line x1="486.05" y1="346.13" x2="492.35" y2="346.13" stroke="#444" stroke-width="0.8" />
<line x1="486.05" y1="344.72" x2="499.05" y2="344.72" stroke="#222" stroke-width="0.8" />
<line x1="486.05" y1="335.46" x2="492.35" y2="335.46" stroke="#444" stroke-width="0.8" />
<rect x="486.05" y="335.0" width="323.74999999999994" height="277.29999999999995" fill="none" stroke="#000" stroke-width="1.45"/>
<text transform="translate(486.05,631.00) scale(1.1,1)" font-size="15.7" text-anchor="middle" >0</text>
<text transform="translate(593.97,631.00) scale(1.1,1)" font-size="15.7" text-anchor="middle" >2</text>
<text transform="translate(701.89,631.00) scale(1.1,1)" font-size="15.7" text-anchor="middle" >4</text>
<text transform="translate(809.81,631.00) scale(1.1,1)" font-size="15.7" text-anchor="middle" >6</text>
<text transform="translate(468.65,349.72) scale(1.06,1)" font-size="15.7" text-anchor="end" >10</text>
<text transform="translate(480.95,341.92) scale(1.12,1)" font-size="12" text-anchor="end" >3</text>
<text transform="translate(468.95,411.44) scale(1.06,1)" font-size="15.7" text-anchor="end" >10</text>
<text transform="translate(464.15,473.06) scale(1.06,1)" font-size="15.7" text-anchor="end" >10</text>
<text transform="translate(480.75,459.46) scale(1.15,1)" font-size="12" text-anchor="end" >-1</text>
<text transform="translate(464.15,534.58) scale(1.06,1)" font-size="15.7" text-anchor="end" >10</text>
<text transform="translate(480.75,520.98) scale(1.15,1)" font-size="12" text-anchor="end" >-3</text>
<text transform="translate(464.15,596.10) scale(1.06,1)" font-size="15.7" text-anchor="end" >10</text>
<text transform="translate(480.75,582.50) scale(1.15,1)" font-size="12" text-anchor="end" >-5</text>
<text transform="translate(506.95,362.50) scale(1.14,1)" font-size="15.7" text-anchor="start" >NSD</text>
<text transform="translate(684.75,368.50) scale(1.14,1)" font-size="15.7" text-anchor="start" >QGSJET II-04</text>
<g transform="translate(809.1500000000001,648) scale(1.12,1)"><text x="0" y="0" font-size="15.7" text-anchor="end">p<tspan font-size="12.5" dy="4.5">t</tspan><tspan dy="-4.5"> (GeV/c)</tspan></text></g>
<g transform="translate(426.55,468.5) rotate(-90) scale(1.045,1)"><text x="0" y="0" font-size="15.7">dn/dηd<tspan font-size="11.5" dy="-8">2</tspan><tspan dy="8">p</tspan><tspan font-size="11.5" dy="4">t</tspan><tspan dy="-4"> (c</tspan><tspan font-size="11.5" dy="-8">2</tspan><tspan dy="8">/GeV</tspan><tspan font-size="11.5" dy="-8">2</tspan><tspan dy="8">)</tspan></text></g>
<path d="M489.2,380.8 L489.8,380.9 L490.5,381.0 L491.1,381.1 L491.7,381.2 L492.4,381.4 L493.3,381.8 L494.3,382.4 L495.5,383.1 L496.8,383.9 L498.1,384.7 L499.3,385.7 L500.5,386.7 L501.5,387.7 L502.5,388.8 L503.4,389.9 L504.4,391.2 L505.4,392.5 L506.7,394.0 L508.2,395.7 L509.9,397.6 L511.6,399.6 L513.5,401.6 L515.3,403.6 L517.1,405.4 L518.8,407.1 L520.6,408.7 L522.3,410.2 L524.0,411.7 L525.8,413.3 L527.5,414.8 L529.2,416.4 L531.0,418.0 L532.7,419.6 L534.4,421.2 L536.2,422.7 L537.9,424.2 L539.6,425.6 L541.4,426.9 L543.1,428.2 L544.9,429.5 L546.6,430.8 L548.3,432.1 L550.0,433.5 L551.7,434.9 L553.4,436.3 L555.1,437.7 L556.7,439.1 L558.4,440.4 L560.1,441.7 L561.7,443.0 L563.4,444.2 L565.1,445.5 L566.7,446.7 L568.4,447.9 L570.1,449.1 L571.8,450.3 L573.5,451.5 L575.2,452.6 L576.9,453.7 L578.6,454.8 L580.3,455.8 L582.1,456.8 L583.8,457.7 L585.5,458.7 L587.3,459.6 L589.0,460.5 L590.7,461.4 L592.5,462.4 L594.2,463.3 L595.9,464.2 L597.7,465.1 L599.4,466.0 L601.1,466.9 L602.9,467.7 L604.6,468.5 L606.3,469.3 L608.1,470.2 L609.8,471.0 L611.5,471.9 L613.3,472.7 L615.0,473.6 L616.7,474.5 L618.5,475.4 L620.2,476.2 L621.9,477.0 L623.7,477.9 L625.5,478.7 L627.2,479.5 L629.0,480.2 L630.7,481.0 L632.4,481.7 L634.2,482.5 L635.9,483.2 L637.6,483.9 L639.4,484.5 L641.1,485.2 L642.8,485.8 L644.3,486.4 L645.9,487.0 L647.6,487.5 L649.4,488.2 L651.5,488.9 L653.8,489.7 L656.3,490.5 L659.0,491.4 L661.8,492.4 L664.8,493.4 L667.8,494.5 L671.0,495.7 L674.4,497.0 L677.9,498.4 L681.5,499.9 L685.1,501.3 L688.6,502.7 L692.1,504.1 L695.5,505.4 L699.0,506.8 L702.5,508.1 L705.9,509.5 L709.4,510.8 L712.9,512.1 L716.3,513.4 L719.8,514.6 L723.3,515.9 L726.7,517.1 L730.2,518.3 L733.7,519.5 L737.1,520.6 L740.6,521.8 L744.1,522.9 L747.5,524.0 L751.0,525.1 L754.5,526.2 L757.9,527.3 L761.4,528.4 L764.9,529.5 L768.3,530.6 L771.8,531.6 L775.4,532.6 L779.0,533.6 L782.6,534.6 L786.2,535.6 L789.6,536.5 L792.7,537.3 L795.5,538.0 L798.0,538.7 L800.4,539.3 L802.6,539.9 L804.9,540.5 L807.2,541.1" fill="none" stroke="#ff0000" stroke-width="2.7" stroke-linejoin="round" stroke-linecap="butt"/>
<path d="M490.2,413.7 L490.9,413.9 L491.6,414.0 L492.2,414.2 L492.9,414.4 L493.7,414.7 L494.5,415.1 L495.4,415.7 L496.4,416.3 L497.4,417.1 L498.4,418.0 L499.5,418.9 L500.5,420.0 L501.5,421.1 L502.4,422.4 L503.3,423.7 L504.3,425.2 L505.4,426.7 L506.7,428.3 L508.2,430.0 L509.9,432.0 L511.6,433.9 L513.5,436.0 L515.3,437.9 L517.1,439.8 L518.8,441.5 L520.6,443.2 L522.3,444.9 L524.0,446.5 L525.8,448.1 L527.5,449.7 L529.2,451.3 L531.0,453.0 L532.7,454.6 L534.4,456.3 L536.2,457.9 L537.9,459.5 L539.6,461.1 L541.4,462.7 L543.1,464.3 L544.9,465.9 L546.6,467.4 L548.3,469.0 L550.0,470.6 L551.7,472.1 L553.4,473.7 L555.1,475.3 L556.7,476.8 L558.4,478.3 L560.1,479.8 L561.7,481.2 L563.4,482.6 L565.1,484.0 L566.7,485.3 L568.4,486.7 L570.1,488.0 L571.8,489.4 L573.5,490.7 L575.2,492.0 L576.9,493.3 L578.6,494.5 L580.3,495.7 L582.1,496.8 L583.8,497.9 L585.5,498.9 L587.3,500.0 L589.0,501.0 L590.7,502.0 L592.5,502.9 L594.2,503.9 L595.9,504.8 L597.7,505.7 L599.4,506.6 L601.1,507.5 L602.9,508.4 L604.6,509.2 L606.3,510.1 L608.1,510.9 L609.8,511.8 L611.5,512.7 L613.3,513.5 L615.0,514.4 L616.7,515.3 L618.5,516.2 L620.2,517.0 L621.9,517.8 L623.7,518.6 L625.5,519.4 L627.2,520.2 L629.0,521.0 L630.7,521.8 L632.4,522.6 L634.2,523.4 L635.9,524.2 L637.6,525.0 L639.4,525.8 L641.1,526.6 L642.8,527.3 L644.3,528.0 L645.9,528.6 L647.6,529.3 L649.4,530.0 L651.5,530.9 L653.8,531.9 L656.3,533.0 L659.0,534.1 L661.8,535.4 L664.8,536.7 L667.8,538.0 L671.0,539.4 L674.4,540.9 L677.9,542.5 L681.5,544.1 L685.1,545.7 L688.6,547.2 L692.1,548.7 L695.5,550.2 L699.0,551.6 L702.5,553.1 L705.9,554.5 L709.4,555.8 L712.9,557.1 L716.3,558.3 L719.8,559.5 L723.3,560.7 L726.7,561.8 L730.2,563.0 L740.0,566.0 L751.0,569.5 L760.0,573.0 L765.0,574.0 L771.8,577.0 L778.0,578.5 L783.0,581.0 L788.0,581.5 L792.7,584.0 L797.0,584.5 L800.0,587.0 L803.0,586.0 L806.0,589.0 L808.5,589.0" fill="none" stroke="#ff0000" stroke-width="2.7" stroke-linejoin="round" stroke-linecap="butt"/>
<path d="M490.2,446.9 L490.9,447.1 L491.6,447.3 L492.2,447.4 L492.9,447.6 L493.7,448.0 L494.5,448.4 L495.4,449.0 L496.4,449.7 L497.4,450.5 L498.4,451.3 L499.5,452.3 L500.5,453.3 L501.5,454.4 L502.4,455.5 L503.3,456.7 L504.3,457.9 L505.4,459.3 L506.7,460.9 L508.2,462.7 L509.9,464.6 L511.6,466.7 L513.5,468.9 L515.3,471.0 L517.1,473.0 L518.8,475.0 L520.6,476.9 L522.3,478.8 L524.0,480.7 L525.8,482.6 L527.5,484.4 L529.2,486.2 L531.0,487.9 L532.7,489.7 L534.4,491.4 L536.2,493.1 L537.9,494.8 L539.6,496.5 L541.4,498.3 L543.1,500.0 L544.9,501.7 L546.6,503.5 L548.3,505.2 L550.0,507.0 L551.7,508.7 L553.4,510.5 L555.1,512.3 L556.7,514.0 L558.4,515.7 L560.1,517.3 L561.7,519.0 L563.4,520.6 L565.1,522.1 L566.7,523.7 L568.4,525.2 L570.1,526.7 L571.8,528.2 L573.5,529.7 L575.2,531.2 L576.9,532.6 L578.6,534.0 L580.3,535.4 L582.1,536.8 L583.8,538.1 L585.5,539.5 L587.3,540.8 L589.0,542.0 L590.7,543.2 L592.5,544.3 L594.2,545.4 L595.9,546.5 L597.7,547.5 L599.4,548.6 L601.1,549.7 L602.9,550.8 L604.6,551.8 L606.3,552.9 L608.1,553.9 L609.8,554.9 L611.5,555.9 L613.3,556.8 L615.0,557.7 L616.7,558.6 L618.5,559.5 L620.2,560.3 L621.9,561.1 L623.7,561.9 L625.5,562.6 L627.2,563.3 L629.0,564.1 L630.7,564.8 L632.4,565.5 L634.2,566.3 L635.9,567.0 L637.6,567.7 L639.4,568.5 L641.1,569.2 L642.8,569.9 L644.3,570.6 L645.9,571.2 L647.6,571.9 L649.4,572.7 L651.5,573.6 L653.8,574.7 L656.3,575.8 L659.0,577.1 L661.8,578.4 L664.8,579.8 L667.8,581.1 L671.0,582.4 L674.4,583.8 L677.9,585.2 L681.5,586.6 L685.1,588.0 L688.6,589.4 L692.1,590.9 L695.5,592.3 L699.0,593.8 L702.5,595.4 L705.9,596.8 L709.4,598.3 L712.9,599.7 L716.6,601.2 L720.2,602.6 L723.7,604.0 L727.1,605.4 L730.2,606.6 L733.0,607.7 L735.5,608.7 L737.9,609.6 L740.2,610.5 L742.4,611.4 L744.8,612.3" fill="none" stroke="#ff0000" stroke-width="2.7" stroke-linejoin="round" stroke-linecap="butt"/>
<rect x="491.15" y="372.25" width="5.5" height="5.5" fill="#000"/>
<rect x="496.65" y="378.45" width="5.5" height="5.5" fill="#000"/>
<rect x="502.05" y="385.55" width="5.5" height="5.5" fill="#000"/>
<rect x="507.45" y="392.55" width="5.5" height="5.5" fill="#000"/>
<rect x="512.85" y="398.85" width="5.5" height="5.5" fill="#000"/>
<rect x="518.25" y="404.65" width="5.5" height="5.5" fill="#000"/>
<rect x="523.65" y="409.85" width="5.5" height="5.5" fill="#000"/>
<rect x="529.05" y="414.85" width="5.5" height="5.5" fill="#000"/>
<rect x="534.45" y="419.05" width="5.5" height="5.5" fill="#000"/>
<rect x="542.55" y="425.45" width="5.5" height="5.5" fill="#000"/>
<rect x="553.45" y="434.25" width="5.5" height="5.5" fill="#000"/>
<rect x="564.25" y="441.45" width="5.5" height="5.5" fill="#000"/>
<rect x="574.85" y="448.65" width="5.5" height="5.5" fill="#000"/>
<rect x="585.65" y="453.85" width="5.5" height="5.5" fill="#000"/>
<rect x="596.45" y="461.55" width="5.5" height="5.5" fill="#000"/>
<rect x="607.25" y="466.75" width="5.5" height="5.5" fill="#000"/>
<rect x="618.15" y="472.65" width="5.5" height="5.5" fill="#000"/>
<rect x="628.95" y="477.85" width="5.5" height="5.5" fill="#000"/>
<rect x="639.75" y="482.65" width="5.5" height="5.5" fill="#000"/>
<rect x="650.45" y="488.65" width="5.5" height="5.5" fill="#000"/>
<rect x="661.35" y="493.25" width="5.5" height="5.5" fill="#000"/>
<rect x="672.15" y="496.35" width="5.5" height="5.5" fill="#000"/>
<rect x="682.95" y="500.35" width="5.5" height="5.5" fill="#000"/>
<rect x="693.75" y="504.65" width="5.5" height="5.5" fill="#000"/>
<rect x="704.55" y="508.45" width="5.5" height="5.5" fill="#000"/>
<rect x="715.45" y="512.85" width="5.5" height="5.5" fill="#000"/>
<rect x="726.25" y="518.05" width="5.5" height="5.5" fill="#000"/>
<rect x="736.85" y="523.25" width="5.5" height="5.5" fill="#000"/>
<rect x="747.65" y="524.25" width="5.5" height="5.5" fill="#000"/>
<rect x="758.45" y="528.45" width="5.5" height="5.5" fill="#000"/>
<rect x="769.35" y="531.75" width="5.5" height="5.5" fill="#000"/>
<rect x="780.15" y="534.65" width="5.5" height="5.5" fill="#000"/>
<rect x="790.95" y="537.55" width="5.5" height="5.5" fill="#000"/>
<rect x="801.75" y="540.65" width="5.5" height="5.5" fill="#000"/>
<rect x="491.15" y="405.95" width="5.5" height="5.5" fill="#000"/>
<rect x="496.65" y="412.55" width="5.5" height="5.5" fill="#000"/>
<rect x="502.05" y="419.65" width="5.5" height="5.5" fill="#000"/>
<rect x="507.45" y="426.95" width="5.5" height="5.5" fill="#000"/>
<rect x="512.85" y="432.95" width="5.5" height="5.5" fill="#000"/>
<rect x="518.25" y="438.95" width="5.5" height="5.5" fill="#000"/>
<rect x="523.65" y="444.85" width="5.5" height="5.5" fill="#000"/>
<rect x="529.05" y="449.55" width="5.5" height="5.5" fill="#000"/>
<rect x="534.45" y="453.85" width="5.5" height="5.5" fill="#000"/>
<rect x="542.55" y="461.55" width="5.5" height="5.5" fill="#000"/>
<rect x="553.45" y="470.55" width="5.5" height="5.5" fill="#000"/>
<rect x="564.25" y="478.85" width="5.5" height="5.5" fill="#000"/>
<rect x="574.85" y="486.75" width="5.5" height="5.5" fill="#000"/>
<rect x="585.65" y="493.45" width="5.5" height="5.5" fill="#000"/>
<rect x="596.45" y="499.05" width="5.5" height="5.5" fill="#000"/>
<rect x="607.25" y="507.95" width="5.5" height="5.5" fill="#000"/>
<rect x="618.15" y="512.15" width="5.5" height="5.5" fill="#000"/>
<rect x="628.95" y="517.95" width="5.5" height="5.5" fill="#000"/>
<rect x="639.75" y="525.45" width="5.5" height="5.5" fill="#000"/>
<rect x="650.45" y="529.85" width="5.5" height="5.5" fill="#000"/>
<rect x="661.35" y="532.15" width="5.5" height="5.5" fill="#000"/>
<rect x="672.15" y="536.95" width="5.5" height="5.5" fill="#000"/>
<rect x="682.95" y="542.95" width="5.5" height="5.5" fill="#000"/>
<rect x="693.75" y="541.95" width="5.5" height="5.5" fill="#000"/>
<rect x="491.15" y="439.85" width="5.5" height="5.5" fill="#000"/>
<rect x="496.65" y="446.05" width="5.5" height="5.5" fill="#000"/>
<rect x="502.05" y="453.25" width="5.5" height="5.5" fill="#000"/>
<rect x="507.45" y="459.75" width="5.5" height="5.5" fill="#000"/>
<rect x="512.85" y="466.95" width="5.5" height="5.5" fill="#000"/>
<rect x="518.25" y="473.25" width="5.5" height="5.5" fill="#000"/>
<rect x="523.65" y="478.85" width="5.5" height="5.5" fill="#000"/>
<rect x="529.05" y="485.55" width="5.5" height="5.5" fill="#000"/>
<rect x="534.45" y="489.85" width="5.5" height="5.5" fill="#000"/>
<rect x="542.55" y="498.05" width="5.5" height="5.5" fill="#000"/>
<rect x="553.45" y="506.35" width="5.5" height="5.5" fill="#000"/>
<rect x="564.25" y="515.95" width="5.5" height="5.5" fill="#000"/>
<rect x="574.85" y="524.05" width="5.5" height="5.5" fill="#000"/>
<rect x="585.65" y="531.55" width="5.5" height="5.5" fill="#000"/>
<rect x="596.45" y="538.75" width="5.5" height="5.5" fill="#000"/>
<rect x="607.25" y="545.45" width="5.5" height="5.5" fill="#000"/>
<rect x="618.15" y="551.25" width="5.5" height="5.5" fill="#000"/>
<rect x="628.95" y="557.35" width="5.5" height="5.5" fill="#000"/>
<rect x="639.75" y="564.55" width="5.5" height="5.5" fill="#000"/>
<rect x="650.45" y="567.95" width="5.5" height="5.5" fill="#000"/>
<rect x="661.35" y="576.45" width="5.5" height="5.5" fill="#000"/>
<rect x="672.15" y="582.35" width="5.5" height="5.5" fill="#000"/>
<rect x="682.95" y="585.85" width="5.5" height="5.5" fill="#000"/>
<rect x="693.75" y="587.25" width="5.5" height="5.5" fill="#000"/>
<text transform="translate(620.20,446.50) scale(1.125,1)" font-size="15.7" text-anchor="start" >| η| &lt; 2.4</text>
<text transform="translate(712.50,507.40) scale(1.125,1)" font-size="15.7" text-anchor="start" >7000&#160;&#160;(x 10)</text>
<text transform="translate(713.00,550.50) scale(1.125,1)" font-size="15.7" text-anchor="start" >2360</text>
<text transform="translate(717.50,598.50) scale(1.125,1)" font-size="15.7" text-anchor="start" >900 (x 0.1)</text>
<line x1="809.80" y1="437.00" x2="809.80" y2="601.00" stroke="#8a1010" stroke-width="1.45" />
</svg>
</body></html>
